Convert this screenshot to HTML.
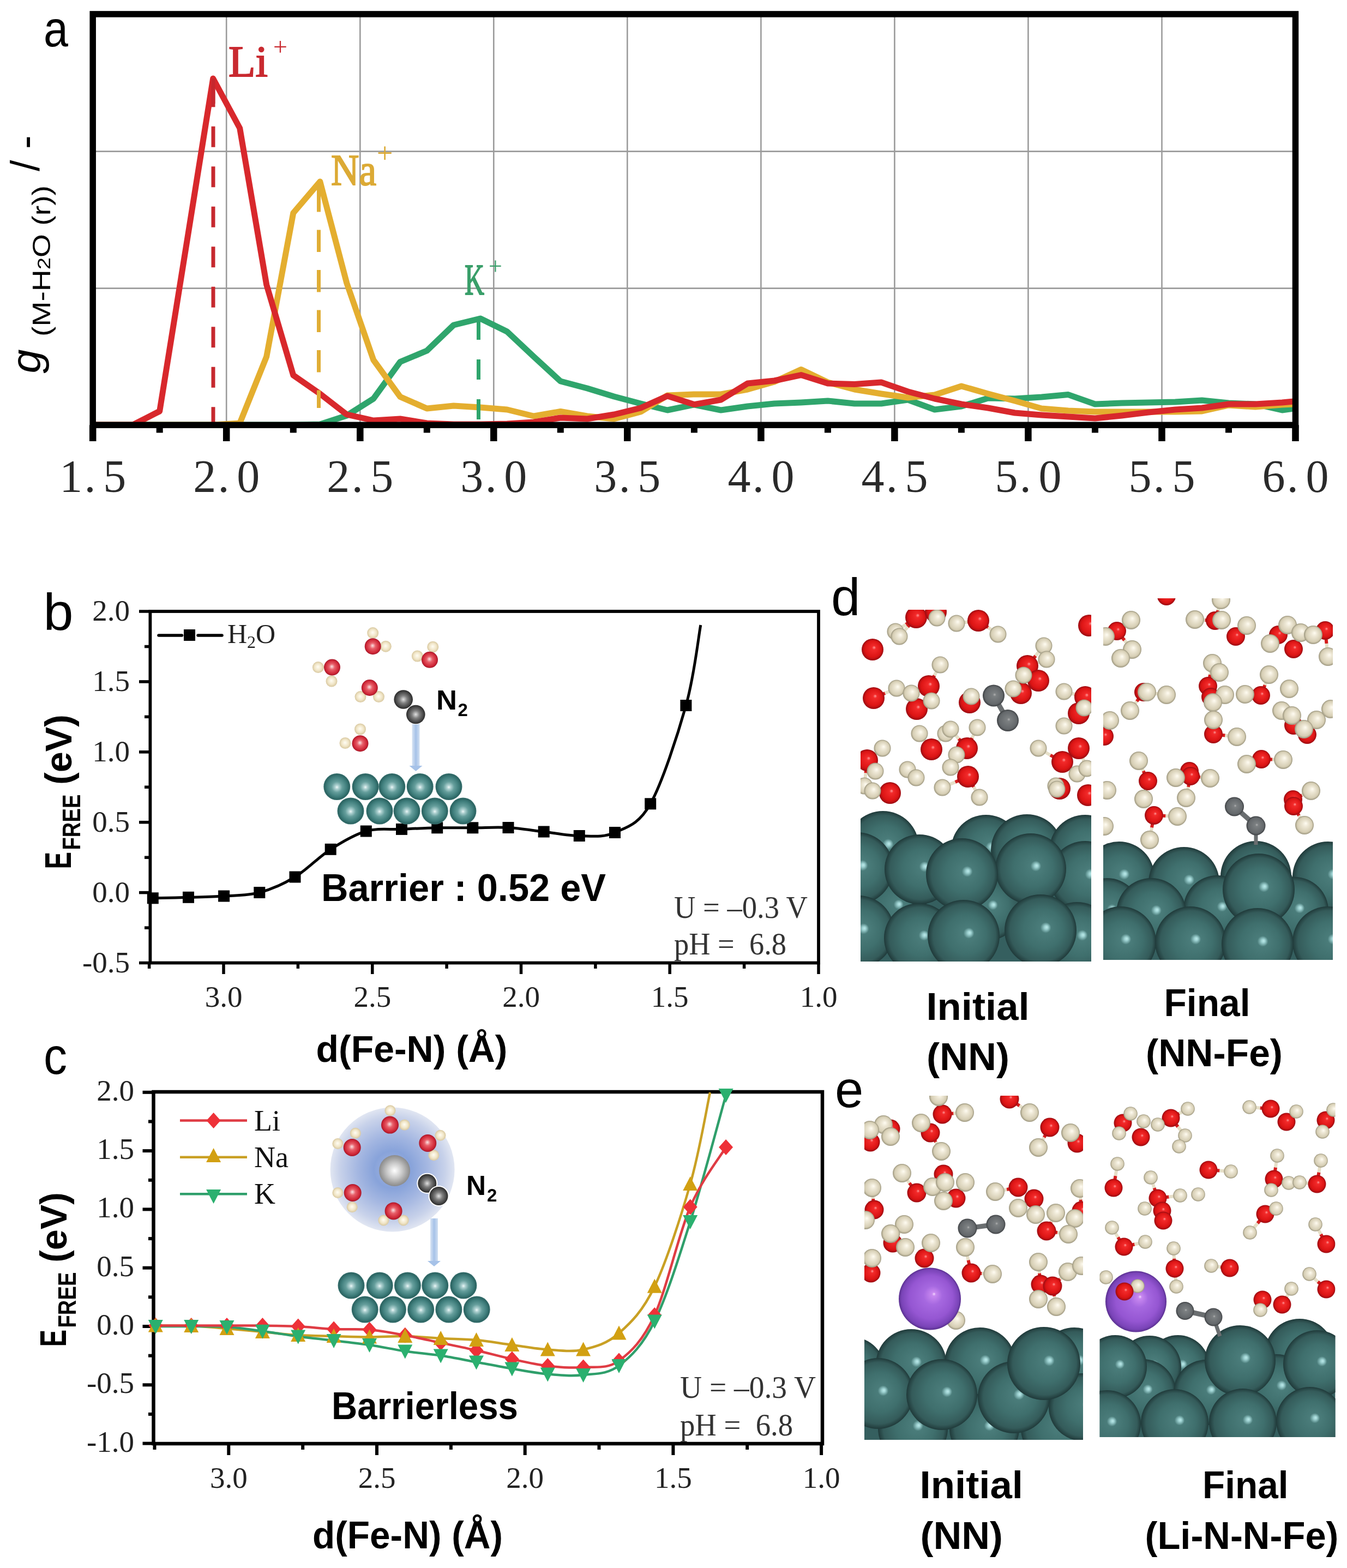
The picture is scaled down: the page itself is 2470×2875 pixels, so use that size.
<!DOCTYPE html>
<html><head><meta charset="utf-8"><title>Figure</title>
<style>html,body{margin:0;padding:0;background:#fff;}svg{display:block;}</style></head>
<body><svg width="2470" height="2875" viewBox="0 0 2470 2875">
<defs><radialGradient id="gO" cx="0.5" cy="0.5" r="0.5" fx="0.48" fy="0.45"><stop offset="0" stop-color="#fbe4e4"/><stop offset="0.35" stop-color="#e8606a"/><stop offset="0.8" stop-color="#d02838"/><stop offset="1" stop-color="#a8182a"/></radialGradient><radialGradient id="gH" cx="0.5" cy="0.5" r="0.5" fx="0.48" fy="0.45"><stop offset="0" stop-color="#fffdf4"/><stop offset="0.6" stop-color="#f1e6c8"/><stop offset="1" stop-color="#d8c8a0"/></radialGradient><radialGradient id="gN" cx="0.5" cy="0.5" r="0.5" fx="0.5" fy="0.5"><stop offset="0" stop-color="#e0e0e0"/><stop offset="0.4" stop-color="#808080"/><stop offset="0.85" stop-color="#404040"/><stop offset="1" stop-color="#2a2a2a"/></radialGradient><radialGradient id="gFe" cx="0.5" cy="0.5" r="0.5" fx="0.5" fy="0.52"><stop offset="0" stop-color="#eef8f8"/><stop offset="0.14" stop-color="#b0d2d2"/><stop offset="0.4" stop-color="#659e9c"/><stop offset="0.75" stop-color="#3e7d7b"/><stop offset="0.93" stop-color="#2c6462"/><stop offset="1" stop-color="#3f7876"/></radialGradient><radialGradient id="gGray" cx="0.5" cy="0.5" r="0.5" fx="0.5" fy="0.5"><stop offset="0" stop-color="#ffffff"/><stop offset="0.5" stop-color="#c8c8c8"/><stop offset="1" stop-color="#8a8a8a"/></radialGradient><radialGradient id="gBlue" cx="0.5" cy="0.5" r="0.5"><stop offset="0" stop-color="#a4b6e0"/><stop offset="0.3" stop-color="#88a3da"/><stop offset="0.55" stop-color="#a3b6e1"/><stop offset="0.85" stop-color="#c8d2ea"/><stop offset="1" stop-color="#e1e6f2"/></radialGradient><linearGradient id="gArrow" x1="0" y1="0" x2="1" y2="0"><stop offset="0" stop-color="#d8e4f4"/><stop offset="0.5" stop-color="#a6c2e8"/><stop offset="1" stop-color="#d0dff2"/></linearGradient><radialGradient id="fe" cx="0.5" cy="0.5" r="0.5" fx="0.585" fy="0.455"><stop offset="0" stop-color="#bdeaea"/><stop offset="0.05" stop-color="#9ed2d2"/><stop offset="0.15" stop-color="#4a7c7a"/><stop offset="0.55" stop-color="#3f6f6d"/><stop offset="0.87" stop-color="#345b5a"/><stop offset="1" stop-color="#203a3a"/></radialGradient><radialGradient id="o2" cx="0.5" cy="0.5" r="0.5" fx="0.58" fy="0.4"><stop offset="0" stop-color="#ff9a9a"/><stop offset="0.18" stop-color="#f22a2a"/><stop offset="0.75" stop-color="#dc1414"/><stop offset="1" stop-color="#9a0c12"/></radialGradient><radialGradient id="h2" cx="0.5" cy="0.5" r="0.5" fx="0.58" fy="0.4"><stop offset="0" stop-color="#fffcf2"/><stop offset="0.3" stop-color="#eee8d6"/><stop offset="0.8" stop-color="#d6ceb4"/><stop offset="1" stop-color="#9c967e"/></radialGradient><radialGradient id="n2" cx="0.5" cy="0.5" r="0.5" fx="0.55" fy="0.45"><stop offset="0" stop-color="#b4b4b4"/><stop offset="0.15" stop-color="#7c8082"/><stop offset="0.8" stop-color="#64686b"/><stop offset="1" stop-color="#3e4144"/></radialGradient><radialGradient id="li" cx="0.5" cy="0.5" r="0.5" fx="0.57" fy="0.42"><stop offset="0" stop-color="#f4d8ff"/><stop offset="0.06" stop-color="#c888f0"/><stop offset="0.3" stop-color="#a668e0"/><stop offset="0.7" stop-color="#9556d2"/><stop offset="0.92" stop-color="#7a44b8"/><stop offset="1" stop-color="#5a3090"/></radialGradient><clipPath id="cldL"><rect x="1578" y="1118" width="423" height="645"/></clipPath><clipPath id="cldR"><rect x="2023" y="1097" width="421" height="663"/></clipPath><clipPath id="cleL"><rect x="1585" y="2009" width="401" height="631"/></clipPath><clipPath id="cleR"><rect x="2016.5" y="2012" width="432.0999999999999" height="623"/></clipPath></defs>
<rect width="2470" height="2875" fill="#fff"/>
<g id="pa">
<line x1="415.2" y1="25.9" x2="415.2" y2="779.3" stroke="#9b9b9b" stroke-width="2.6"/>
<line x1="660.3" y1="25.9" x2="660.3" y2="779.3" stroke="#9b9b9b" stroke-width="2.6"/>
<line x1="905.3" y1="25.9" x2="905.3" y2="779.3" stroke="#9b9b9b" stroke-width="2.6"/>
<line x1="1150.3" y1="25.9" x2="1150.3" y2="779.3" stroke="#9b9b9b" stroke-width="2.6"/>
<line x1="1395.4" y1="25.9" x2="1395.4" y2="779.3" stroke="#9b9b9b" stroke-width="2.6"/>
<line x1="1640.4" y1="25.9" x2="1640.4" y2="779.3" stroke="#9b9b9b" stroke-width="2.6"/>
<line x1="1885.4" y1="25.9" x2="1885.4" y2="779.3" stroke="#9b9b9b" stroke-width="2.6"/>
<line x1="2130.5" y1="25.9" x2="2130.5" y2="779.3" stroke="#9b9b9b" stroke-width="2.6"/>
<line x1="170.2" y1="277.6" x2="2375.5" y2="277.6" stroke="#9b9b9b" stroke-width="2.6"/>
<line x1="170.2" y1="528.6" x2="2375.5" y2="528.6" stroke="#9b9b9b" stroke-width="2.6"/>
<polyline points="173.2,779.0 194.7,779.0 243.7,779.0 292.7,779.0 341.7,779.0 390.7,779.0 439.7,779.0 488.7,779.0 537.8,779.0 586.8,778.0 635.8,762.0 684.8,731.0 733.8,663.5 782.8,643.0 831.8,596.0 880.8,584.0 929.8,608.0 978.8,654.0 1027.8,699.0 1076.8,712.0 1125.8,727.0 1174.8,740.0 1223.8,752.0 1272.9,742.0 1321.9,752.0 1370.9,745.0 1419.9,740.0 1468.9,738.0 1517.9,735.0 1566.9,740.0 1615.9,740.0 1664.9,733.0 1713.9,751.0 1762.9,745.0 1811.9,730.0 1860.9,731.0 1909.9,728.0 1958.9,723.6 2008.0,741.0 2057.0,739.0 2106.0,738.0 2155.0,737.0 2204.0,734.0 2253.0,739.0 2302.0,741.0 2351.0,752.0 2372.5,749.0" fill="none" stroke="#2fa56c" stroke-width="11" stroke-linejoin="round"/>
<polyline points="173.2,779.0 194.7,779.0 243.7,779.0 292.7,779.0 341.7,779.0 390.7,779.0 439.7,776.0 488.7,654.0 537.8,390.5 586.8,333.0 635.8,519.0 684.8,660.0 733.8,727.5 782.8,749.0 831.8,744.0 880.8,747.0 929.8,751.0 978.8,763.0 1027.8,754.5 1076.8,763.0 1125.8,768.0 1174.8,755.0 1223.8,725.0 1272.9,723.0 1321.9,723.0 1370.9,714.0 1419.9,700.0 1468.9,677.5 1517.9,701.0 1566.9,714.0 1615.9,722.0 1664.9,729.0 1713.9,724.0 1762.9,708.0 1811.9,722.0 1860.9,735.0 1909.9,749.0 1958.9,753.0 2008.0,755.0 2057.0,755.0 2106.0,755.0 2155.0,755.0 2204.0,754.0 2253.0,743.0 2302.0,746.0 2351.0,742.0 2372.5,741.0" fill="none" stroke="#e4ae2f" stroke-width="11" stroke-linejoin="round"/>
<polyline points="173.2,779.0 194.7,779.0 243.7,779.0 292.7,754.0 341.7,449.5 390.7,144.0 439.7,235.0 488.7,522.0 537.8,688.0 586.8,722.0 635.8,760.0 684.8,771.0 733.8,768.0 782.8,776.0 831.8,778.0 880.8,778.0 929.8,777.0 978.8,774.0 1027.8,766.0 1076.8,768.0 1125.8,760.0 1174.8,748.0 1223.8,726.0 1272.9,741.6 1321.9,733.0 1370.9,703.0 1419.9,698.0 1468.9,687.6 1517.9,703.0 1566.9,704.5 1615.9,701.0 1664.9,718.0 1713.9,731.0 1762.9,741.0 1811.9,748.0 1860.9,757.0 1909.9,761.0 1958.9,764.0 2008.0,767.0 2057.0,762.0 2106.0,756.0 2155.0,751.0 2204.0,748.0 2253.0,741.0 2302.0,741.0 2351.0,738.0 2372.5,736.0" fill="none" stroke="#d8282c" stroke-width="11" stroke-linejoin="round"/>
<line x1="391" y1="158.3" x2="391" y2="779" stroke="#c6282e" stroke-width="7" stroke-dasharray="38 35.5"/>
<line x1="391" y1="144" x2="391" y2="190" stroke="#c6282e" stroke-width="7"/>
<line x1="584.5" y1="348" x2="584.5" y2="748" stroke="#e0ad35" stroke-width="7" stroke-dasharray="40.5 33"/>
<line x1="584.5" y1="336" x2="584.5" y2="378" stroke="#e0ad35" stroke-width="7"/>
<line x1="877.5" y1="586" x2="877.5" y2="770" stroke="#2fa56c" stroke-width="7" stroke-dasharray="37 36"/>
<rect x="170.2" y="25.9" width="2205.3" height="753.4" fill="none" stroke="#000" stroke-width="11.5"/>
<line x1="170.2" y1="779.3" x2="170.2" y2="809" stroke="#000" stroke-width="12.5"/>
<line x1="415.2" y1="779.3" x2="415.2" y2="809" stroke="#000" stroke-width="12.5"/>
<line x1="660.3" y1="779.3" x2="660.3" y2="809" stroke="#000" stroke-width="12.5"/>
<line x1="905.3" y1="779.3" x2="905.3" y2="809" stroke="#000" stroke-width="12.5"/>
<line x1="1150.3" y1="779.3" x2="1150.3" y2="809" stroke="#000" stroke-width="12.5"/>
<line x1="1395.4" y1="779.3" x2="1395.4" y2="809" stroke="#000" stroke-width="12.5"/>
<line x1="1640.4" y1="779.3" x2="1640.4" y2="809" stroke="#000" stroke-width="12.5"/>
<line x1="1885.4" y1="779.3" x2="1885.4" y2="809" stroke="#000" stroke-width="12.5"/>
<line x1="2130.5" y1="779.3" x2="2130.5" y2="809" stroke="#000" stroke-width="12.5"/>
<line x1="2375.5" y1="779.3" x2="2375.5" y2="809" stroke="#000" stroke-width="12.5"/>
<line x1="292.7" y1="779.3" x2="292.7" y2="793.5" stroke="#000" stroke-width="12"/>
<line x1="537.8" y1="779.3" x2="537.8" y2="793.5" stroke="#000" stroke-width="12"/>
<line x1="782.8" y1="779.3" x2="782.8" y2="793.5" stroke="#000" stroke-width="12"/>
<line x1="1027.8" y1="779.3" x2="1027.8" y2="793.5" stroke="#000" stroke-width="12"/>
<line x1="1272.9" y1="779.3" x2="1272.9" y2="793.5" stroke="#000" stroke-width="12"/>
<line x1="1517.9" y1="779.3" x2="1517.9" y2="793.5" stroke="#000" stroke-width="12"/>
<line x1="1762.9" y1="779.3" x2="1762.9" y2="793.5" stroke="#000" stroke-width="12"/>
<line x1="2008.0" y1="779.3" x2="2008.0" y2="793.5" stroke="#000" stroke-width="12"/>
<line x1="2253.0" y1="779.3" x2="2253.0" y2="793.5" stroke="#000" stroke-width="12"/>
<text x="170.2" y="901.5" font-family="'Liberation Serif', 'Times New Roman', serif" font-size="84" text-anchor="middle" textLength="122" lengthAdjust="spacing" fill="#2a2a2a">1.&#8202;5</text>
<text x="415.2" y="901.5" font-family="'Liberation Serif', 'Times New Roman', serif" font-size="84" text-anchor="middle" textLength="122" lengthAdjust="spacing" fill="#2a2a2a">2.&#8202;0</text>
<text x="660.3" y="901.5" font-family="'Liberation Serif', 'Times New Roman', serif" font-size="84" text-anchor="middle" textLength="122" lengthAdjust="spacing" fill="#2a2a2a">2.&#8202;5</text>
<text x="905.3" y="901.5" font-family="'Liberation Serif', 'Times New Roman', serif" font-size="84" text-anchor="middle" textLength="122" lengthAdjust="spacing" fill="#2a2a2a">3.&#8202;0</text>
<text x="1150.3" y="901.5" font-family="'Liberation Serif', 'Times New Roman', serif" font-size="84" text-anchor="middle" textLength="122" lengthAdjust="spacing" fill="#2a2a2a">3.&#8202;5</text>
<text x="1395.4" y="901.5" font-family="'Liberation Serif', 'Times New Roman', serif" font-size="84" text-anchor="middle" textLength="122" lengthAdjust="spacing" fill="#2a2a2a">4.&#8202;0</text>
<text x="1640.4" y="901.5" font-family="'Liberation Serif', 'Times New Roman', serif" font-size="84" text-anchor="middle" textLength="122" lengthAdjust="spacing" fill="#2a2a2a">4.&#8202;5</text>
<text x="1885.4" y="901.5" font-family="'Liberation Serif', 'Times New Roman', serif" font-size="84" text-anchor="middle" textLength="122" lengthAdjust="spacing" fill="#2a2a2a">5.&#8202;0</text>
<text x="2130.5" y="901.5" font-family="'Liberation Serif', 'Times New Roman', serif" font-size="84" text-anchor="middle" textLength="122" lengthAdjust="spacing" fill="#2a2a2a">5.&#8202;5</text>
<text x="2375.5" y="901.5" font-family="'Liberation Serif', 'Times New Roman', serif" font-size="84" text-anchor="middle" textLength="122" lengthAdjust="spacing" fill="#2a2a2a">6.&#8202;0</text>
<text x="419" y="140" font-family="'Liberation Serif', 'Times New Roman', serif" font-size="80" fill="#c92a30" stroke="#c92a30" stroke-width="2" textLength="72" lengthAdjust="spacingAndGlyphs">Li</text>
<text x="501" y="101" font-family="'Liberation Serif', 'Times New Roman', serif" font-size="46" fill="#c92a30">+</text>
<text x="607" y="339" font-family="'Liberation Serif', 'Times New Roman', serif" font-size="80" fill="#dcaa35" stroke="#dcaa35" stroke-width="2" textLength="83" lengthAdjust="spacingAndGlyphs">Na</text>
<text x="691" y="298" font-family="'Liberation Serif', 'Times New Roman', serif" font-size="52" fill="#dcaa35">+</text>
<text x="852" y="540" font-family="'Liberation Serif', 'Times New Roman', serif" font-size="80" fill="#3a9f6a" stroke="#3a9f6a" stroke-width="2" textLength="36" lengthAdjust="spacingAndGlyphs">K</text>
<text x="896" y="503" font-family="'Liberation Serif', 'Times New Roman', serif" font-size="44" fill="#3a9f6a">+</text>
<text x="80" y="85" font-family="'Liberation Sans', Arial, sans-serif" font-size="92" fill="#000" textLength="45" lengthAdjust="spacingAndGlyphs">a</text>
<g transform="translate(86,684) rotate(-90)"><text x="-0.5" y="-12" font-family="'Liberation Sans', Arial, sans-serif" font-style="italic" font-size="76" fill="#000" textLength="44" lengthAdjust="spacingAndGlyphs">g</text><text x="67" y="6" font-family="'Liberation Sans', Arial, sans-serif" font-size="47" fill="#000" textLength="277" lengthAdjust="spacingAndGlyphs">(M-H<tspan font-size="34">2</tspan>O (r))</text><text x="370" y="-14" font-family="'Liberation Sans', Arial, sans-serif" font-size="74" fill="#000">/ -</text></g>
</g>
<g id="pb">
<rect x="275.4" y="1121" width="1225.6" height="644.5" fill="none" stroke="#000" stroke-width="5.8"/>
<line x1="255" y1="1121.0" x2="275.4" y2="1121.0" stroke="#000" stroke-width="5.5"/>
<text x="238" y="1138.0" font-family="'Liberation Serif', 'Times New Roman', serif" font-size="55" text-anchor="end" fill="#222">2.0</text>
<line x1="255" y1="1249.9" x2="275.4" y2="1249.9" stroke="#000" stroke-width="5.5"/>
<text x="238" y="1266.9" font-family="'Liberation Serif', 'Times New Roman', serif" font-size="55" text-anchor="end" fill="#222">1.5</text>
<line x1="255" y1="1378.8" x2="275.4" y2="1378.8" stroke="#000" stroke-width="5.5"/>
<text x="238" y="1395.8" font-family="'Liberation Serif', 'Times New Roman', serif" font-size="55" text-anchor="end" fill="#222">1.0</text>
<line x1="255" y1="1507.7" x2="275.4" y2="1507.7" stroke="#000" stroke-width="5.5"/>
<text x="238" y="1524.7" font-family="'Liberation Serif', 'Times New Roman', serif" font-size="55" text-anchor="end" fill="#222">0.5</text>
<line x1="255" y1="1636.6" x2="275.4" y2="1636.6" stroke="#000" stroke-width="5.5"/>
<text x="238" y="1653.6" font-family="'Liberation Serif', 'Times New Roman', serif" font-size="55" text-anchor="end" fill="#222">0.0</text>
<line x1="255" y1="1765.5" x2="275.4" y2="1765.5" stroke="#000" stroke-width="5.5"/>
<text x="238" y="1782.5" font-family="'Liberation Serif', 'Times New Roman', serif" font-size="55" text-anchor="end" fill="#222">-0.5</text>
<line x1="265" y1="1185.5" x2="275.4" y2="1185.5" stroke="#000" stroke-width="5.5"/>
<line x1="265" y1="1314.3" x2="275.4" y2="1314.3" stroke="#000" stroke-width="5.5"/>
<line x1="265" y1="1443.2" x2="275.4" y2="1443.2" stroke="#000" stroke-width="5.5"/>
<line x1="265" y1="1572.2" x2="275.4" y2="1572.2" stroke="#000" stroke-width="5.5"/>
<line x1="265" y1="1701.1" x2="275.4" y2="1701.1" stroke="#000" stroke-width="5.5"/>
<line x1="410.0" y1="1765.5" x2="410.0" y2="1786" stroke="#000" stroke-width="5.5"/>
<text x="410.0" y="1846" font-family="'Liberation Serif', 'Times New Roman', serif" font-size="55" text-anchor="middle" fill="#222">3.0</text>
<line x1="682.8" y1="1765.5" x2="682.8" y2="1786" stroke="#000" stroke-width="5.5"/>
<text x="682.8" y="1846" font-family="'Liberation Serif', 'Times New Roman', serif" font-size="55" text-anchor="middle" fill="#222">2.5</text>
<line x1="955.5" y1="1765.5" x2="955.5" y2="1786" stroke="#000" stroke-width="5.5"/>
<text x="955.5" y="1846" font-family="'Liberation Serif', 'Times New Roman', serif" font-size="55" text-anchor="middle" fill="#222">2.0</text>
<line x1="1228.2" y1="1765.5" x2="1228.2" y2="1786" stroke="#000" stroke-width="5.5"/>
<text x="1228.2" y="1846" font-family="'Liberation Serif', 'Times New Roman', serif" font-size="55" text-anchor="middle" fill="#222">1.5</text>
<line x1="1501.0" y1="1765.5" x2="1501.0" y2="1786" stroke="#000" stroke-width="5.5"/>
<text x="1501.0" y="1846" font-family="'Liberation Serif', 'Times New Roman', serif" font-size="55" text-anchor="middle" fill="#222">1.0</text>
<line x1="273.6" y1="1765.5" x2="273.6" y2="1776" stroke="#000" stroke-width="5.5"/>
<line x1="546.4" y1="1765.5" x2="546.4" y2="1776" stroke="#000" stroke-width="5.5"/>
<line x1="819.1" y1="1765.5" x2="819.1" y2="1776" stroke="#000" stroke-width="5.5"/>
<line x1="1091.9" y1="1765.5" x2="1091.9" y2="1776" stroke="#000" stroke-width="5.5"/>
<line x1="1364.6" y1="1765.5" x2="1364.6" y2="1776" stroke="#000" stroke-width="5.5"/>
</g>
<g id="pc">
<rect x="281.5" y="2002" width="1226.5" height="645.0" fill="none" stroke="#000" stroke-width="6.5"/>
<line x1="261.5" y1="2002.8" x2="281.5" y2="2002.8" stroke="#000" stroke-width="6"/>
<text x="246" y="2017.8" font-family="'Liberation Serif', 'Times New Roman', serif" font-size="55" text-anchor="end" fill="#222">2.0</text>
<line x1="261.5" y1="2110.1" x2="281.5" y2="2110.1" stroke="#000" stroke-width="6"/>
<text x="246" y="2125.1" font-family="'Liberation Serif', 'Times New Roman', serif" font-size="55" text-anchor="end" fill="#222">1.5</text>
<line x1="261.5" y1="2217.4" x2="281.5" y2="2217.4" stroke="#000" stroke-width="6"/>
<text x="246" y="2232.4" font-family="'Liberation Serif', 'Times New Roman', serif" font-size="55" text-anchor="end" fill="#222">1.0</text>
<line x1="261.5" y1="2324.7" x2="281.5" y2="2324.7" stroke="#000" stroke-width="6"/>
<text x="246" y="2339.7" font-family="'Liberation Serif', 'Times New Roman', serif" font-size="55" text-anchor="end" fill="#222">0.5</text>
<line x1="261.5" y1="2432.0" x2="281.5" y2="2432.0" stroke="#000" stroke-width="6"/>
<text x="246" y="2447.0" font-family="'Liberation Serif', 'Times New Roman', serif" font-size="55" text-anchor="end" fill="#222">0.0</text>
<line x1="261.5" y1="2539.3" x2="281.5" y2="2539.3" stroke="#000" stroke-width="6"/>
<text x="246" y="2554.3" font-family="'Liberation Serif', 'Times New Roman', serif" font-size="55" text-anchor="end" fill="#222">-0.5</text>
<line x1="261.5" y1="2646.6" x2="281.5" y2="2646.6" stroke="#000" stroke-width="6"/>
<text x="246" y="2661.6" font-family="'Liberation Serif', 'Times New Roman', serif" font-size="55" text-anchor="end" fill="#222">-1.0</text>
<line x1="272" y1="2056.4" x2="281.5" y2="2056.4" stroke="#000" stroke-width="6"/>
<line x1="272" y1="2163.8" x2="281.5" y2="2163.8" stroke="#000" stroke-width="6"/>
<line x1="272" y1="2271.1" x2="281.5" y2="2271.1" stroke="#000" stroke-width="6"/>
<line x1="272" y1="2378.3" x2="281.5" y2="2378.3" stroke="#000" stroke-width="6"/>
<line x1="272" y1="2485.7" x2="281.5" y2="2485.7" stroke="#000" stroke-width="6"/>
<line x1="272" y1="2592.9" x2="281.5" y2="2592.9" stroke="#000" stroke-width="6"/>
<line x1="419.3" y1="2647" x2="419.3" y2="2668" stroke="#000" stroke-width="6"/>
<text x="419.3" y="2728" font-family="'Liberation Serif', 'Times New Roman', serif" font-size="55" text-anchor="middle" fill="#222">3.0</text>
<line x1="691.0" y1="2647" x2="691.0" y2="2668" stroke="#000" stroke-width="6"/>
<text x="691.0" y="2728" font-family="'Liberation Serif', 'Times New Roman', serif" font-size="55" text-anchor="middle" fill="#222">2.5</text>
<line x1="962.7" y1="2647" x2="962.7" y2="2668" stroke="#000" stroke-width="6"/>
<text x="962.7" y="2728" font-family="'Liberation Serif', 'Times New Roman', serif" font-size="55" text-anchor="middle" fill="#222">2.0</text>
<line x1="1234.4" y1="2647" x2="1234.4" y2="2668" stroke="#000" stroke-width="6"/>
<text x="1234.4" y="2728" font-family="'Liberation Serif', 'Times New Roman', serif" font-size="55" text-anchor="middle" fill="#222">1.5</text>
<line x1="1506.1" y1="2647" x2="1506.1" y2="2668" stroke="#000" stroke-width="6"/>
<text x="1506.1" y="2728" font-family="'Liberation Serif', 'Times New Roman', serif" font-size="55" text-anchor="middle" fill="#222">1.0</text>
<line x1="283.5" y1="2647" x2="283.5" y2="2658" stroke="#000" stroke-width="6"/>
<line x1="555.2" y1="2647" x2="555.2" y2="2658" stroke="#000" stroke-width="6"/>
<line x1="826.9" y1="2647" x2="826.9" y2="2658" stroke="#000" stroke-width="6"/>
<line x1="1098.5" y1="2647" x2="1098.5" y2="2658" stroke="#000" stroke-width="6"/>
<line x1="1370.2" y1="2647" x2="1370.2" y2="2658" stroke="#000" stroke-width="6"/>
</g>
<g id="pb2">
<path d="M280.3,1646.8 C291.2,1646.5 323.7,1645.9 345.5,1645.3 C367.2,1644.7 388.9,1644.5 410.6,1643.0 C432.4,1641.5 454.1,1642.3 475.8,1636.5 C497.5,1630.7 519.3,1621.2 541.0,1608.0 C562.7,1594.8 584.4,1571.3 606.2,1557.3 C627.9,1543.3 649.6,1530.2 671.3,1524.0 C693.0,1517.8 714.8,1521.4 736.5,1520.4 C758.2,1519.4 779.9,1518.2 801.7,1517.8 C823.4,1517.4 845.1,1517.8 866.8,1517.8 C888.6,1517.8 910.3,1516.3 932.0,1517.5 C953.7,1518.7 975.4,1522.5 997.2,1525.0 C1018.9,1527.5 1040.6,1532.2 1062.3,1532.5 C1084.1,1532.8 1105.8,1536.3 1127.5,1526.5 C1149.2,1516.7 1171.0,1512.6 1192.7,1473.8 C1214.4,1435.0 1242.5,1348.1 1257.9,1293.5 C1273.2,1238.9 1280.3,1170.6 1284.8,1146.0" fill="none" stroke="#000" stroke-width="5"/>
<rect x="269.8" y="1636.3" width="21" height="21" fill="#000"/>
<rect x="335.0" y="1634.8" width="21" height="21" fill="#000"/>
<rect x="400.1" y="1632.5" width="21" height="21" fill="#000"/>
<rect x="465.3" y="1626.0" width="21" height="21" fill="#000"/>
<rect x="530.5" y="1597.5" width="21" height="21" fill="#000"/>
<rect x="595.7" y="1546.8" width="21" height="21" fill="#000"/>
<rect x="660.8" y="1513.5" width="21" height="21" fill="#000"/>
<rect x="726.0" y="1509.9" width="21" height="21" fill="#000"/>
<rect x="791.2" y="1507.3" width="21" height="21" fill="#000"/>
<rect x="856.3" y="1507.3" width="21" height="21" fill="#000"/>
<rect x="921.5" y="1507.0" width="21" height="21" fill="#000"/>
<rect x="986.7" y="1514.5" width="21" height="21" fill="#000"/>
<rect x="1051.8" y="1522.0" width="21" height="21" fill="#000"/>
<rect x="1117.0" y="1516.0" width="21" height="21" fill="#000"/>
<rect x="1182.2" y="1463.3" width="21" height="21" fill="#000"/>
<rect x="1247.4" y="1283.0" width="21" height="21" fill="#000"/>
<line x1="291" y1="1165" x2="333.5" y2="1165" stroke="#000" stroke-width="5.5" stroke-linecap="round"/>
<line x1="363" y1="1165" x2="407" y2="1165" stroke="#000" stroke-width="5.5" stroke-linecap="round"/>
<rect x="337" y="1154" width="21" height="21" fill="#000"/>
<text x="417" y="1179" font-family="'Liberation Serif', 'Times New Roman', serif" font-size="50" fill="#222">H<tspan font-size="32" dy="9">2</tspan><tspan dy="-9">O</tspan></text>
<circle cx="683.7" cy="1160.6" r="10.5" fill="url(#gH)"/><circle cx="707.3" cy="1185.2" r="10.5" fill="url(#gH)"/><circle cx="683.7" cy="1185.2" r="15" fill="url(#gO)"/>
<circle cx="583.4" cy="1223.6" r="10.5" fill="url(#gH)"/><circle cx="608.0" cy="1249.0" r="10.5" fill="url(#gH)"/><circle cx="609.0" cy="1223.6" r="15" fill="url(#gO)"/>
<circle cx="793.8" cy="1186.2" r="10.5" fill="url(#gH)"/><circle cx="765.3" cy="1203.0" r="10.5" fill="url(#gH)"/><circle cx="788.0" cy="1209.8" r="15" fill="url(#gO)"/>
<circle cx="661.0" cy="1277.6" r="10.5" fill="url(#gH)"/><circle cx="694.5" cy="1277.6" r="10.5" fill="url(#gH)"/><circle cx="677.8" cy="1261.0" r="15" fill="url(#gO)"/>
<circle cx="660.5" cy="1337.0" r="10.5" fill="url(#gH)"/><circle cx="633.0" cy="1362.5" r="10.5" fill="url(#gH)"/><circle cx="660.5" cy="1363.2" r="15" fill="url(#gO)"/>
<rect x="755.5" y="1325" width="14" height="81" fill="url(#gArrow)"/><path d="M750.5,1404 L774.5,1404 L762.5,1414 Z" fill="#a6c2e8"/>
<circle cx="739.7" cy="1282.5" r="18.5" fill="#fff"/>
<circle cx="739.7" cy="1282.5" r="17.3" fill="url(#gN)"/>
<circle cx="762.3" cy="1310" r="18.5" fill="#fff"/>
<circle cx="762.3" cy="1310.0" r="17.3" fill="url(#gN)"/>
<circle cx="617.8" cy="1442.5" r="24.5" fill="url(#gFe)"/>
<circle cx="670.1" cy="1442.5" r="24.5" fill="url(#gFe)"/>
<circle cx="718.8" cy="1442.5" r="24.5" fill="url(#gFe)"/>
<circle cx="770.2" cy="1442.5" r="24.5" fill="url(#gFe)"/>
<circle cx="823.0" cy="1442.5" r="24.5" fill="url(#gFe)"/>
<circle cx="643.0" cy="1487.0" r="24.5" fill="url(#gFe)"/>
<circle cx="696.0" cy="1487.0" r="24.5" fill="url(#gFe)"/>
<circle cx="746.0" cy="1487.0" r="24.5" fill="url(#gFe)"/>
<circle cx="797.3" cy="1487.0" r="24.5" fill="url(#gFe)"/>
<circle cx="849.0" cy="1487.0" r="24.5" fill="url(#gFe)"/>
<text x="800" y="1300.8" font-family="'Liberation Sans', Arial, sans-serif" font-weight="bold" font-size="50" fill="#000" textLength="38" lengthAdjust="spacingAndGlyphs">N</text>
<text x="839.5" y="1313.4" font-family="'Liberation Sans', Arial, sans-serif" font-weight="bold" font-size="33" fill="#000">2</text>
<text x="589" y="1652" font-family="'Liberation Sans', Arial, sans-serif" font-weight="bold" font-size="71" fill="#000" textLength="522" lengthAdjust="spacingAndGlyphs">Barrier : 0.52 eV</text>
<text x="1236" y="1683" font-family="'Liberation Serif', 'Times New Roman', serif" font-size="56" fill="#333" textLength="245" lengthAdjust="spacingAndGlyphs">U = &#8211;0.3 V</text>
<text x="1236" y="1750" font-family="'Liberation Serif', 'Times New Roman', serif" font-size="56" fill="#333" textLength="206" lengthAdjust="spacingAndGlyphs" xml:space="preserve">pH =&#160; 6.8</text>
<text x="579.5" y="1946.5" font-family="'Liberation Sans', Arial, sans-serif" font-weight="bold" font-size="68" fill="#000" textLength="351" lengthAdjust="spacingAndGlyphs">d(Fe-N) (&#197;)</text>
<text x="79.5" y="1155" font-family="'Liberation Sans', Arial, sans-serif" font-size="94" fill="#000" textLength="55" lengthAdjust="spacingAndGlyphs">b</text>
<g transform="translate(129.5,1592) rotate(-90)"><text x="-1.5" y="0" font-family="'Liberation Sans', Arial, sans-serif" font-weight="bold" font-size="68" fill="#000" textLength="31.5" lengthAdjust="spacingAndGlyphs">E</text><text x="33.5" y="17.5" font-family="'Liberation Sans', Arial, sans-serif" font-weight="bold" font-size="45.5" fill="#000" textLength="102" lengthAdjust="spacingAndGlyphs">FREE</text><text x="153" y="1" font-family="'Liberation Sans', Arial, sans-serif" font-weight="bold" font-size="69" fill="#000" textLength="129" lengthAdjust="spacingAndGlyphs">(eV)</text></g>
</g>
<g id="pc2">
<path d="M285.3,2430.6 C296.2,2430.7 328.9,2430.1 350.7,2431.0 C372.4,2431.9 394.2,2434.2 416.0,2436.0 C437.8,2437.8 459.6,2440.0 481.4,2442.0 C503.2,2444.0 525.0,2446.7 546.7,2448.0 C568.5,2449.3 590.3,2449.4 612.1,2450.0 C633.9,2450.6 655.7,2451.5 677.5,2451.5 C699.2,2451.5 721.0,2449.6 742.8,2450.0 C764.6,2450.4 786.4,2452.8 808.2,2454.0 C830.0,2455.2 851.8,2455.0 873.5,2457.0 C895.3,2459.0 917.1,2463.1 938.9,2466.0 C960.7,2468.9 982.5,2473.1 1004.3,2474.5 C1026.0,2475.9 1047.8,2479.5 1069.6,2474.5 C1091.4,2469.5 1113.2,2463.8 1135.0,2444.5 C1156.8,2425.2 1178.6,2404.4 1200.3,2358.8 C1222.1,2313.2 1248.8,2230.3 1265.7,2171.0 C1282.6,2111.7 1296.0,2031.0 1302.0,2003.0" fill="none" stroke="#c9a024" stroke-width="4.5"/>
<path d="M285.3,2432.0 C296.2,2432.0 328.9,2431.8 350.7,2432.0 C372.4,2432.2 394.2,2431.6 416.0,2433.0 C437.8,2434.4 459.6,2437.8 481.4,2440.7 C503.2,2443.6 525.0,2447.6 546.7,2450.5 C568.5,2453.4 590.3,2455.4 612.1,2458.0 C633.9,2460.6 655.7,2462.8 677.5,2466.0 C699.2,2469.2 721.0,2474.2 742.8,2477.5 C764.6,2480.8 786.4,2482.2 808.2,2485.5 C830.0,2488.8 851.8,2493.5 873.5,2497.5 C895.3,2501.5 917.1,2505.8 938.9,2509.5 C960.7,2513.2 982.5,2517.6 1004.3,2519.5 C1026.0,2521.4 1047.8,2523.6 1069.6,2521.0 C1091.4,2518.4 1113.2,2520.4 1135.0,2504.0 C1156.8,2487.6 1178.6,2466.5 1200.3,2422.5 C1222.1,2378.5 1243.9,2309.1 1265.7,2240.0 C1287.5,2170.9 1320.2,2046.7 1331.1,2008.0" fill="none" stroke="#2f9f6b" stroke-width="4.5"/>
<path d="M285.3,2430.6 C296.2,2430.6 328.9,2430.6 350.7,2430.6 C372.4,2430.6 394.2,2430.6 416.0,2430.6 C437.8,2430.6 459.6,2430.4 481.4,2430.6 C503.2,2430.8 525.0,2430.9 546.7,2432.0 C568.5,2433.1 590.3,2436.0 612.1,2437.0 C633.9,2438.0 655.7,2436.1 677.5,2438.0 C699.2,2439.9 721.0,2444.3 742.8,2448.3 C764.6,2452.3 786.4,2457.4 808.2,2462.0 C830.0,2466.6 851.8,2471.0 873.5,2476.0 C895.3,2481.0 917.1,2487.2 938.9,2492.0 C960.7,2496.8 982.5,2502.0 1004.3,2504.5 C1026.0,2507.0 1047.8,2508.6 1069.6,2507.0 C1091.4,2505.4 1113.2,2510.9 1135.0,2495.0 C1156.8,2479.1 1178.6,2458.5 1200.3,2411.5 C1222.1,2364.5 1243.9,2264.3 1265.7,2213.0 C1287.5,2161.7 1320.2,2121.8 1331.1,2103.5" fill="none" stroke="#df3c44" stroke-width="4.5"/>
<path d="M285.3,2416.1 L298.3,2430.6 L285.3,2445.1 L272.3,2430.6 Z" fill="#ee3138"/>
<path d="M350.7,2416.1 L363.7,2430.6 L350.7,2445.1 L337.7,2430.6 Z" fill="#ee3138"/>
<path d="M416.0,2416.1 L429.0,2430.6 L416.0,2445.1 L403.0,2430.6 Z" fill="#ee3138"/>
<path d="M481.4,2416.1 L494.4,2430.6 L481.4,2445.1 L468.4,2430.6 Z" fill="#ee3138"/>
<path d="M546.7,2417.5 L559.7,2432.0 L546.7,2446.5 L533.7,2432.0 Z" fill="#ee3138"/>
<path d="M612.1,2422.5 L625.1,2437.0 L612.1,2451.5 L599.1,2437.0 Z" fill="#ee3138"/>
<path d="M677.5,2423.5 L690.5,2438.0 L677.5,2452.5 L664.5,2438.0 Z" fill="#ee3138"/>
<path d="M742.8,2433.8 L755.8,2448.3 L742.8,2462.8 L729.8,2448.3 Z" fill="#ee3138"/>
<path d="M808.2,2447.5 L821.2,2462.0 L808.2,2476.5 L795.2,2462.0 Z" fill="#ee3138"/>
<path d="M873.5,2461.5 L886.5,2476.0 L873.5,2490.5 L860.5,2476.0 Z" fill="#ee3138"/>
<path d="M938.9,2477.5 L951.9,2492.0 L938.9,2506.5 L925.9,2492.0 Z" fill="#ee3138"/>
<path d="M1004.3,2490.0 L1017.3,2504.5 L1004.3,2519.0 L991.3,2504.5 Z" fill="#ee3138"/>
<path d="M1069.6,2492.5 L1082.6,2507.0 L1069.6,2521.5 L1056.6,2507.0 Z" fill="#ee3138"/>
<path d="M1135.0,2480.5 L1148.0,2495.0 L1135.0,2509.5 L1122.0,2495.0 Z" fill="#ee3138"/>
<path d="M1200.3,2397.0 L1213.3,2411.5 L1200.3,2426.0 L1187.3,2411.5 Z" fill="#ee3138"/>
<path d="M1265.7,2198.5 L1278.7,2213.0 L1265.7,2227.5 L1252.7,2213.0 Z" fill="#ee3138"/>
<path d="M1331.1,2089.0 L1344.1,2103.5 L1331.1,2118.0 L1318.1,2103.5 Z" fill="#ee3138"/>
<path d="M285.3,2416.6 L298.8,2442.6 L271.8,2442.6 Z" fill="#d2a012"/>
<path d="M350.7,2417.0 L364.2,2443.0 L337.2,2443.0 Z" fill="#d2a012"/>
<path d="M416.0,2422.0 L429.5,2448.0 L402.5,2448.0 Z" fill="#d2a012"/>
<path d="M481.4,2428.0 L494.9,2454.0 L467.9,2454.0 Z" fill="#d2a012"/>
<path d="M546.7,2434.0 L560.2,2460.0 L533.2,2460.0 Z" fill="#d2a012"/>
<path d="M612.1,2436.0 L625.6,2462.0 L598.6,2462.0 Z" fill="#d2a012"/>
<path d="M677.5,2437.5 L691.0,2463.5 L664.0,2463.5 Z" fill="#d2a012"/>
<path d="M742.8,2436.0 L756.3,2462.0 L729.3,2462.0 Z" fill="#d2a012"/>
<path d="M808.2,2440.0 L821.7,2466.0 L794.7,2466.0 Z" fill="#d2a012"/>
<path d="M873.5,2443.0 L887.0,2469.0 L860.0,2469.0 Z" fill="#d2a012"/>
<path d="M938.9,2452.0 L952.4,2478.0 L925.4,2478.0 Z" fill="#d2a012"/>
<path d="M1004.3,2460.5 L1017.8,2486.5 L990.8,2486.5 Z" fill="#d2a012"/>
<path d="M1069.6,2460.5 L1083.1,2486.5 L1056.1,2486.5 Z" fill="#d2a012"/>
<path d="M1135.0,2430.5 L1148.5,2456.5 L1121.5,2456.5 Z" fill="#d2a012"/>
<path d="M1200.3,2344.8 L1213.8,2370.8 L1186.8,2370.8 Z" fill="#d2a012"/>
<path d="M1265.7,2157.0 L1279.2,2183.0 L1252.2,2183.0 Z" fill="#d2a012"/>
<path d="M285.3,2446.0 L298.8,2420.0 L271.8,2420.0 Z" fill="#2bb06f"/>
<path d="M350.7,2446.0 L364.2,2420.0 L337.2,2420.0 Z" fill="#2bb06f"/>
<path d="M416.0,2447.0 L429.5,2421.0 L402.5,2421.0 Z" fill="#2bb06f"/>
<path d="M481.4,2454.7 L494.9,2428.7 L467.9,2428.7 Z" fill="#2bb06f"/>
<path d="M546.7,2464.5 L560.2,2438.5 L533.2,2438.5 Z" fill="#2bb06f"/>
<path d="M612.1,2472.0 L625.6,2446.0 L598.6,2446.0 Z" fill="#2bb06f"/>
<path d="M677.5,2480.0 L691.0,2454.0 L664.0,2454.0 Z" fill="#2bb06f"/>
<path d="M742.8,2491.5 L756.3,2465.5 L729.3,2465.5 Z" fill="#2bb06f"/>
<path d="M808.2,2499.5 L821.7,2473.5 L794.7,2473.5 Z" fill="#2bb06f"/>
<path d="M873.5,2511.5 L887.0,2485.5 L860.0,2485.5 Z" fill="#2bb06f"/>
<path d="M938.9,2523.5 L952.4,2497.5 L925.4,2497.5 Z" fill="#2bb06f"/>
<path d="M1004.3,2533.5 L1017.8,2507.5 L990.8,2507.5 Z" fill="#2bb06f"/>
<path d="M1069.6,2535.0 L1083.1,2509.0 L1056.1,2509.0 Z" fill="#2bb06f"/>
<path d="M1135.0,2518.0 L1148.5,2492.0 L1121.5,2492.0 Z" fill="#2bb06f"/>
<path d="M1200.3,2436.5 L1213.8,2410.5 L1186.8,2410.5 Z" fill="#2bb06f"/>
<path d="M1265.7,2254.0 L1279.2,2228.0 L1252.2,2228.0 Z" fill="#2bb06f"/>
<path d="M1331.1,2022.0 L1344.6,1996.0 L1317.6,1996.0 Z" fill="#2bb06f"/>
<line x1="330" y1="2054.5" x2="453" y2="2054.5" stroke="#df3c44" stroke-width="4.5"/><path d="M391.6,2040.0 L404.6,2054.5 L391.6,2069.0 L378.6,2054.5 Z" fill="#ee3138"/>
<line x1="330" y1="2121.8" x2="453" y2="2121.8" stroke="#c9a024" stroke-width="4.5"/><path d="M391.6,2105.0 L405.1,2131.0 L378.1,2131.0 Z" fill="#d2a012"/>
<line x1="330" y1="2189.2" x2="453" y2="2189.2" stroke="#2f9f6b" stroke-width="4.5"/><path d="M391.6,2207.0 L405.1,2181.0 L378.1,2181.0 Z" fill="#2bb06f"/>
<text x="466" y="2073" font-family="'Liberation Serif', 'Times New Roman', serif" font-size="54" fill="#111">Li</text>
<text x="466" y="2140" font-family="'Liberation Serif', 'Times New Roman', serif" font-size="54" fill="#111">Na</text>
<text x="466" y="2207" font-family="'Liberation Serif', 'Times New Roman', serif" font-size="54" fill="#111">K</text>
<circle cx="719.6" cy="2144.5" r="114" fill="url(#gBlue)"/>
<circle cx="723.6" cy="2146.5" r="28.5" fill="url(#gGray)"/>
<circle cx="715.5" cy="2036.3" r="10" fill="url(#gH)"/><circle cx="741.8" cy="2062.6" r="10" fill="url(#gH)"/><circle cx="715.0" cy="2062.6" r="16" fill="url(#gO)"/>
<circle cx="651.8" cy="2077.8" r="10" fill="url(#gH)"/><circle cx="619.4" cy="2097.0" r="10" fill="url(#gH)"/><circle cx="645.7" cy="2104.0" r="16" fill="url(#gO)"/>
<circle cx="807.5" cy="2081.8" r="10" fill="url(#gH)"/><circle cx="795.4" cy="2118.2" r="10" fill="url(#gH)"/><circle cx="784.3" cy="2096.0" r="16" fill="url(#gO)"/>
<circle cx="619.4" cy="2187.0" r="10" fill="url(#gH)"/><circle cx="645.7" cy="2213.3" r="10" fill="url(#gH)"/><circle cx="646.7" cy="2187.0" r="16" fill="url(#gO)"/>
<circle cx="703.4" cy="2237.5" r="10" fill="url(#gH)"/><circle cx="739.8" cy="2237.5" r="10" fill="url(#gH)"/><circle cx="721.6" cy="2220.4" r="16" fill="url(#gO)"/>
<circle cx="783.3" cy="2169.8" r="19" fill="#fff"/><circle cx="783.3" cy="2169.8" r="17" fill="url(#gN)"/>
<circle cx="804.5" cy="2193" r="19" fill="#fff"/><circle cx="804.5" cy="2193.0" r="17" fill="url(#gN)"/>
<rect x="789.0" y="2234" width="14" height="80" fill="url(#gArrow)"/><path d="M784.0,2312 L808.0,2312 L796.0,2322 Z" fill="#a6c2e8"/>
<circle cx="644.0" cy="2357.0" r="24.5" fill="url(#gFe)"/>
<circle cx="696.2" cy="2357.0" r="24.5" fill="url(#gFe)"/>
<circle cx="747.4" cy="2357.0" r="24.5" fill="url(#gFe)"/>
<circle cx="797.8" cy="2357.0" r="24.5" fill="url(#gFe)"/>
<circle cx="849.9" cy="2357.0" r="24.5" fill="url(#gFe)"/>
<circle cx="669.2" cy="2401.0" r="24.5" fill="url(#gFe)"/>
<circle cx="720.4" cy="2401.0" r="24.5" fill="url(#gFe)"/>
<circle cx="771.7" cy="2401.0" r="24.5" fill="url(#gFe)"/>
<circle cx="822.9" cy="2401.0" r="24.5" fill="url(#gFe)"/>
<circle cx="874.2" cy="2401.0" r="24.5" fill="url(#gFe)"/>
<text x="855" y="2190.8" font-family="'Liberation Sans', Arial, sans-serif" font-weight="bold" font-size="50" fill="#000" textLength="36" lengthAdjust="spacingAndGlyphs">N</text>
<text x="893" y="2203.4" font-family="'Liberation Sans', Arial, sans-serif" font-weight="bold" font-size="33" fill="#000">2</text>
<text x="608" y="2602" font-family="'Liberation Sans', Arial, sans-serif" font-weight="bold" font-size="70" fill="#000" textLength="342" lengthAdjust="spacingAndGlyphs">Barrierless</text>
<text x="1247" y="2562.5" font-family="'Liberation Serif', 'Times New Roman', serif" font-size="58" fill="#333" textLength="249" lengthAdjust="spacingAndGlyphs">U = &#8211;0.3 V</text>
<text x="1247" y="2632" font-family="'Liberation Serif', 'Times New Roman', serif" font-size="58" fill="#333" textLength="207" lengthAdjust="spacingAndGlyphs" xml:space="preserve">pH =&#160; 6.8</text>
<text x="573" y="2839" font-family="'Liberation Sans', Arial, sans-serif" font-weight="bold" font-size="70" fill="#000" textLength="349" lengthAdjust="spacingAndGlyphs">d(Fe-N) (&#197;)</text>
<text x="80" y="1968.5" font-family="'Liberation Sans', Arial, sans-serif" font-size="94" fill="#000" textLength="43" lengthAdjust="spacingAndGlyphs">c</text>
<g transform="translate(121,2468) rotate(-90)"><text x="-1.5" y="0" font-family="'Liberation Sans', Arial, sans-serif" font-weight="bold" font-size="68" fill="#000" textLength="31.5" lengthAdjust="spacingAndGlyphs">E</text><text x="33.5" y="17.5" font-family="'Liberation Sans', Arial, sans-serif" font-weight="bold" font-size="45.5" fill="#000" textLength="102" lengthAdjust="spacingAndGlyphs">FREE</text><text x="153" y="1" font-family="'Liberation Sans', Arial, sans-serif" font-weight="bold" font-size="69" fill="#000" textLength="129" lengthAdjust="spacingAndGlyphs">(eV)</text></g>
</g>
<g clip-path="url(#cldL)">
<rect x="1578" y="1590" width="423" height="173" fill="#355f5f"/>
<circle cx="1619" cy="1553" r="66" fill="url(#fe)"/>
<circle cx="1808" cy="1558" r="64" fill="url(#fe)"/>
<circle cx="1883" cy="1559" r="66" fill="url(#fe)"/>
<circle cx="1990" cy="1560" r="66" fill="url(#fe)"/>
<circle cx="1639" cy="1663" r="60" fill="url(#fe)"/>
<circle cx="1812" cy="1664" r="60" fill="url(#fe)"/>
<circle cx="1572" cy="1592" r="66" fill="url(#fe)"/>
<circle cx="1686" cy="1594" r="64" fill="url(#fe)"/>
<circle cx="1990" cy="1608" r="66" fill="url(#fe)"/>
<circle cx="1890" cy="1593" r="65" fill="url(#fe)"/>
<circle cx="1764" cy="1603" r="66" fill="url(#fe)"/>
<circle cx="1574" cy="1708" r="66" fill="url(#fe)"/>
<circle cx="1685" cy="1720" r="64" fill="url(#fe)"/>
<circle cx="1975" cy="1720" r="66" fill="url(#fe)"/>
<circle cx="1908" cy="1706" r="66" fill="url(#fe)"/>
<circle cx="1767" cy="1716" r="66" fill="url(#fe)"/>
<line x1="1680" y1="1132" x2="1661.0" y2="1145.0" stroke="#d41c1c" stroke-width="6"/>
<line x1="1661.0" y1="1145.0" x2="1642" y2="1158" stroke="#e6dfc8" stroke-width="6"/>
<line x1="1680" y1="1132" x2="1664.5" y2="1149.5" stroke="#d41c1c" stroke-width="6"/>
<line x1="1664.5" y1="1149.5" x2="1649" y2="1167" stroke="#e6dfc8" stroke-width="6"/>
<line x1="1794" y1="1138" x2="1774.0" y2="1140.5" stroke="#d41c1c" stroke-width="6"/>
<line x1="1774.0" y1="1140.5" x2="1754" y2="1143" stroke="#e6dfc8" stroke-width="6"/>
<line x1="1794" y1="1138" x2="1812.0" y2="1150.5" stroke="#d41c1c" stroke-width="6"/>
<line x1="1812.0" y1="1150.5" x2="1830" y2="1163" stroke="#e6dfc8" stroke-width="6"/>
<line x1="1703" y1="1258" x2="1713.5" y2="1238.5" stroke="#d41c1c" stroke-width="6"/>
<line x1="1713.5" y1="1238.5" x2="1724" y2="1219" stroke="#e6dfc8" stroke-width="6"/>
<line x1="1602" y1="1280" x2="1623.0" y2="1271.0" stroke="#d41c1c" stroke-width="6"/>
<line x1="1623.0" y1="1271.0" x2="1644" y2="1262" stroke="#e6dfc8" stroke-width="6"/>
<line x1="1681" y1="1300" x2="1676.0" y2="1285.5" stroke="#d41c1c" stroke-width="6"/>
<line x1="1676.0" y1="1285.5" x2="1671" y2="1271" stroke="#e6dfc8" stroke-width="6"/>
<line x1="1703" y1="1258" x2="1705.5" y2="1271.5" stroke="#d41c1c" stroke-width="6"/>
<line x1="1705.5" y1="1271.5" x2="1708" y2="1285" stroke="#e6dfc8" stroke-width="6"/>
<line x1="1884" y1="1221" x2="1899.0" y2="1202.5" stroke="#d41c1c" stroke-width="6"/>
<line x1="1899.0" y1="1202.5" x2="1914" y2="1184" stroke="#e6dfc8" stroke-width="6"/>
<line x1="1884" y1="1221" x2="1901.5" y2="1215.0" stroke="#d41c1c" stroke-width="6"/>
<line x1="1901.5" y1="1215.0" x2="1919" y2="1209" stroke="#e6dfc8" stroke-width="6"/>
<line x1="1773" y1="1372" x2="1782.5" y2="1353.0" stroke="#d41c1c" stroke-width="6"/>
<line x1="1782.5" y1="1353.0" x2="1792" y2="1334" stroke="#e6dfc8" stroke-width="6"/>
<line x1="1990" y1="1278" x2="1970.5" y2="1273.0" stroke="#d41c1c" stroke-width="6"/>
<line x1="1970.5" y1="1273.0" x2="1951" y2="1268" stroke="#e6dfc8" stroke-width="6"/>
<line x1="1978" y1="1308" x2="1964.5" y2="1319.5" stroke="#d41c1c" stroke-width="6"/>
<line x1="1964.5" y1="1319.5" x2="1951" y2="1331" stroke="#e6dfc8" stroke-width="6"/>
<line x1="1708" y1="1374" x2="1697.0" y2="1359.5" stroke="#d41c1c" stroke-width="6"/>
<line x1="1697.0" y1="1359.5" x2="1686" y2="1345" stroke="#e6dfc8" stroke-width="6"/>
<line x1="1708" y1="1374" x2="1721.0" y2="1359.5" stroke="#d41c1c" stroke-width="6"/>
<line x1="1721.0" y1="1359.5" x2="1734" y2="1345" stroke="#e6dfc8" stroke-width="6"/>
<line x1="1773" y1="1372" x2="1758.0" y2="1354.5" stroke="#d41c1c" stroke-width="6"/>
<line x1="1758.0" y1="1354.5" x2="1743" y2="1337" stroke="#e6dfc8" stroke-width="6"/>
<line x1="1773" y1="1372" x2="1763.5" y2="1378.0" stroke="#d41c1c" stroke-width="6"/>
<line x1="1763.5" y1="1378.0" x2="1754" y2="1384" stroke="#e6dfc8" stroke-width="6"/>
<line x1="1590" y1="1394" x2="1604.0" y2="1383.0" stroke="#d41c1c" stroke-width="6"/>
<line x1="1604.0" y1="1383.0" x2="1618" y2="1372" stroke="#e6dfc8" stroke-width="6"/>
<line x1="1590" y1="1394" x2="1597.5" y2="1404.0" stroke="#d41c1c" stroke-width="6"/>
<line x1="1597.5" y1="1404.0" x2="1605" y2="1414" stroke="#e6dfc8" stroke-width="6"/>
<line x1="1590" y1="1394" x2="1587.5" y2="1417.5" stroke="#d41c1c" stroke-width="6"/>
<line x1="1587.5" y1="1417.5" x2="1585" y2="1441" stroke="#e6dfc8" stroke-width="6"/>
<line x1="1775" y1="1424" x2="1759.0" y2="1415.5" stroke="#d41c1c" stroke-width="6"/>
<line x1="1759.0" y1="1415.5" x2="1743" y2="1407" stroke="#e6dfc8" stroke-width="6"/>
<line x1="1775" y1="1424" x2="1751.5" y2="1434.0" stroke="#d41c1c" stroke-width="6"/>
<line x1="1751.5" y1="1434.0" x2="1728" y2="1444" stroke="#e6dfc8" stroke-width="6"/>
<line x1="1775" y1="1424" x2="1785.5" y2="1443.0" stroke="#d41c1c" stroke-width="6"/>
<line x1="1785.5" y1="1443.0" x2="1796" y2="1462" stroke="#e6dfc8" stroke-width="6"/>
<line x1="1948" y1="1397" x2="1926.0" y2="1384.5" stroke="#d41c1c" stroke-width="6"/>
<line x1="1926.0" y1="1384.5" x2="1904" y2="1372" stroke="#e6dfc8" stroke-width="6"/>
<line x1="1948" y1="1397" x2="1961.5" y2="1408.0" stroke="#d41c1c" stroke-width="6"/>
<line x1="1961.5" y1="1408.0" x2="1975" y2="1419" stroke="#e6dfc8" stroke-width="6"/>
<line x1="1978" y1="1372" x2="1985.5" y2="1390.5" stroke="#d41c1c" stroke-width="6"/>
<line x1="1985.5" y1="1390.5" x2="1993" y2="1409" stroke="#e6dfc8" stroke-width="6"/>
<line x1="1632" y1="1454" x2="1616.0" y2="1452.0" stroke="#d41c1c" stroke-width="6"/>
<line x1="1616.0" y1="1452.0" x2="1600" y2="1450" stroke="#e6dfc8" stroke-width="6"/>
<circle cx="1680" cy="1132" r="20" fill="url(#o2)"/>
<circle cx="1716" cy="1122" r="20" fill="url(#o2)"/>
<circle cx="1794" cy="1138" r="20" fill="url(#o2)"/>
<circle cx="1600" cy="1191" r="20" fill="url(#o2)"/>
<circle cx="1997" cy="1147" r="20" fill="url(#o2)"/>
<circle cx="1703" cy="1258" r="20" fill="url(#o2)"/>
<circle cx="1602" cy="1280" r="20" fill="url(#o2)"/>
<circle cx="1681" cy="1300" r="20" fill="url(#o2)"/>
<circle cx="1778" cy="1288" r="20" fill="url(#o2)"/>
<circle cx="1884" cy="1221" r="20" fill="url(#o2)"/>
<circle cx="1904" cy="1248" r="20" fill="url(#o2)"/>
<circle cx="1872" cy="1271" r="20" fill="url(#o2)"/>
<circle cx="1990" cy="1278" r="20" fill="url(#o2)"/>
<circle cx="1978" cy="1308" r="20" fill="url(#o2)"/>
<circle cx="1708" cy="1374" r="20" fill="url(#o2)"/>
<circle cx="1773" cy="1372" r="20" fill="url(#o2)"/>
<circle cx="1590" cy="1394" r="20" fill="url(#o2)"/>
<circle cx="1632" cy="1454" r="20" fill="url(#o2)"/>
<circle cx="1775" cy="1424" r="20" fill="url(#o2)"/>
<circle cx="1978" cy="1372" r="20" fill="url(#o2)"/>
<circle cx="1948" cy="1397" r="20" fill="url(#o2)"/>
<circle cx="1943" cy="1446" r="20" fill="url(#o2)"/>
<circle cx="1995" cy="1458" r="20" fill="url(#o2)"/>
<circle cx="1642" cy="1158" r="15.5" fill="url(#h2)"/>
<circle cx="1649" cy="1167" r="15.5" fill="url(#h2)"/>
<circle cx="1718" cy="1133" r="15.5" fill="url(#h2)"/>
<circle cx="1754" cy="1143" r="15.5" fill="url(#h2)"/>
<circle cx="1830" cy="1163" r="15.5" fill="url(#h2)"/>
<circle cx="1724" cy="1219" r="15.5" fill="url(#h2)"/>
<circle cx="1644" cy="1262" r="15.5" fill="url(#h2)"/>
<circle cx="1671" cy="1271" r="15.5" fill="url(#h2)"/>
<circle cx="1708" cy="1285" r="15.5" fill="url(#h2)"/>
<circle cx="1914" cy="1184" r="15.5" fill="url(#h2)"/>
<circle cx="1919" cy="1209" r="15.5" fill="url(#h2)"/>
<circle cx="1877" cy="1238" r="15.5" fill="url(#h2)"/>
<circle cx="1858" cy="1263" r="15.5" fill="url(#h2)"/>
<circle cx="1781" cy="1277" r="15.5" fill="url(#h2)"/>
<circle cx="1792" cy="1334" r="15.5" fill="url(#h2)"/>
<circle cx="1951" cy="1268" r="15.5" fill="url(#h2)"/>
<circle cx="1988" cy="1298" r="15.5" fill="url(#h2)"/>
<circle cx="1951" cy="1331" r="15.5" fill="url(#h2)"/>
<circle cx="1686" cy="1345" r="15.5" fill="url(#h2)"/>
<circle cx="1734" cy="1345" r="15.5" fill="url(#h2)"/>
<circle cx="1743" cy="1337" r="15.5" fill="url(#h2)"/>
<circle cx="1754" cy="1384" r="15.5" fill="url(#h2)"/>
<circle cx="1618" cy="1372" r="15.5" fill="url(#h2)"/>
<circle cx="1605" cy="1414" r="15.5" fill="url(#h2)"/>
<circle cx="1585" cy="1441" r="15.5" fill="url(#h2)"/>
<circle cx="1664" cy="1411" r="15.5" fill="url(#h2)"/>
<circle cx="1680" cy="1426" r="15.5" fill="url(#h2)"/>
<circle cx="1743" cy="1407" r="15.5" fill="url(#h2)"/>
<circle cx="1728" cy="1444" r="15.5" fill="url(#h2)"/>
<circle cx="1796" cy="1462" r="15.5" fill="url(#h2)"/>
<circle cx="1904" cy="1372" r="15.5" fill="url(#h2)"/>
<circle cx="1936" cy="1441" r="15.5" fill="url(#h2)"/>
<circle cx="1975" cy="1419" r="15.5" fill="url(#h2)"/>
<circle cx="1993" cy="1409" r="15.5" fill="url(#h2)"/>
<circle cx="1600" cy="1450" r="15.5" fill="url(#h2)"/>
<circle cx="1938" cy="1447" r="15.5" fill="url(#h2)"/>
<line x1="1822" y1="1275.5" x2="1848" y2="1321" stroke="#6a6e70" stroke-width="9"/>
<circle cx="1822" cy="1275.5" r="20" fill="url(#n2)"/>
<circle cx="1848" cy="1321" r="20" fill="url(#n2)"/>
</g>
<g clip-path="url(#cldR)">
<rect x="2023" y="1660" width="421" height="100" fill="#355f5f"/>
<circle cx="2052" cy="1608" r="65" fill="url(#fe)"/>
<circle cx="2171" cy="1618" r="65" fill="url(#fe)"/>
<circle cx="2303" cy="1607" r="65" fill="url(#fe)"/>
<circle cx="2435" cy="1608" r="65" fill="url(#fe)"/>
<circle cx="2232" cy="1667" r="62" fill="url(#fe)"/>
<circle cx="2374" cy="1670" r="62" fill="url(#fe)"/>
<circle cx="2030" cy="1672" r="62" fill="url(#fe)"/>
<circle cx="2111" cy="1674" r="64" fill="url(#fe)"/>
<circle cx="2308" cy="1631" r="66" fill="url(#fe)"/>
<circle cx="2055" cy="1727" r="65" fill="url(#fe)"/>
<circle cx="2183" cy="1727" r="65" fill="url(#fe)"/>
<circle cx="2435" cy="1727" r="65" fill="url(#fe)"/>
<circle cx="2306" cy="1731" r="66" fill="url(#fe)"/>
<line x1="2303" y1="1514" x2="2303" y2="1549" stroke="#6a6e70" stroke-width="7"/>
<line x1="2228" y1="1138" x2="2233.5" y2="1119.0" stroke="#d41c1c" stroke-width="6"/>
<line x1="2233.5" y1="1119.0" x2="2239" y2="1100" stroke="#e6dfc8" stroke-width="6"/>
<line x1="2048" y1="1157" x2="2061.0" y2="1147.0" stroke="#d41c1c" stroke-width="6"/>
<line x1="2061.0" y1="1147.0" x2="2074" y2="1137" stroke="#e6dfc8" stroke-width="6"/>
<line x1="2228" y1="1138" x2="2209.5" y2="1137.0" stroke="#d41c1c" stroke-width="6"/>
<line x1="2209.5" y1="1137.0" x2="2191" y2="1136" stroke="#e6dfc8" stroke-width="6"/>
<line x1="2266" y1="1167" x2="2276.0" y2="1157.0" stroke="#d41c1c" stroke-width="6"/>
<line x1="2276.0" y1="1157.0" x2="2286" y2="1147" stroke="#e6dfc8" stroke-width="6"/>
<line x1="2344" y1="1164" x2="2352.5" y2="1155.0" stroke="#d41c1c" stroke-width="6"/>
<line x1="2352.5" y1="1155.0" x2="2361" y2="1146" stroke="#e6dfc8" stroke-width="6"/>
<line x1="2372" y1="1190" x2="2378.5" y2="1175.0" stroke="#d41c1c" stroke-width="6"/>
<line x1="2378.5" y1="1175.0" x2="2385" y2="1160" stroke="#e6dfc8" stroke-width="6"/>
<line x1="2430" y1="1156" x2="2419.0" y2="1160.0" stroke="#d41c1c" stroke-width="6"/>
<line x1="2419.0" y1="1160.0" x2="2408" y2="1164" stroke="#e6dfc8" stroke-width="6"/>
<line x1="2344" y1="1164" x2="2336.5" y2="1172.0" stroke="#d41c1c" stroke-width="6"/>
<line x1="2336.5" y1="1172.0" x2="2329" y2="1180" stroke="#e6dfc8" stroke-width="6"/>
<line x1="2430" y1="1156" x2="2432.5" y2="1180.0" stroke="#d41c1c" stroke-width="6"/>
<line x1="2432.5" y1="1180.0" x2="2435" y2="1204" stroke="#e6dfc8" stroke-width="6"/>
<line x1="2048" y1="1157" x2="2037.5" y2="1162.0" stroke="#d41c1c" stroke-width="6"/>
<line x1="2037.5" y1="1162.0" x2="2027" y2="1167" stroke="#e6dfc8" stroke-width="6"/>
<line x1="2048" y1="1157" x2="2062.0" y2="1174.0" stroke="#d41c1c" stroke-width="6"/>
<line x1="2062.0" y1="1174.0" x2="2076" y2="1191" stroke="#e6dfc8" stroke-width="6"/>
<line x1="2215" y1="1258" x2="2219.0" y2="1237.0" stroke="#d41c1c" stroke-width="6"/>
<line x1="2219.0" y1="1237.0" x2="2223" y2="1216" stroke="#e6dfc8" stroke-width="6"/>
<line x1="2215" y1="1258" x2="2225.5" y2="1245.5" stroke="#d41c1c" stroke-width="6"/>
<line x1="2225.5" y1="1245.5" x2="2236" y2="1233" stroke="#e6dfc8" stroke-width="6"/>
<line x1="2312" y1="1275" x2="2319.5" y2="1256.0" stroke="#d41c1c" stroke-width="6"/>
<line x1="2319.5" y1="1256.0" x2="2327" y2="1237" stroke="#e6dfc8" stroke-width="6"/>
<line x1="2097" y1="1269" x2="2118.0" y2="1271.5" stroke="#d41c1c" stroke-width="6"/>
<line x1="2118.0" y1="1271.5" x2="2139" y2="1274" stroke="#e6dfc8" stroke-width="6"/>
<line x1="2097" y1="1269" x2="2084.5" y2="1286.0" stroke="#d41c1c" stroke-width="6"/>
<line x1="2084.5" y1="1286.0" x2="2072" y2="1303" stroke="#e6dfc8" stroke-width="6"/>
<line x1="2220" y1="1278" x2="2233.0" y2="1276.0" stroke="#d41c1c" stroke-width="6"/>
<line x1="2233.0" y1="1276.0" x2="2246" y2="1274" stroke="#e6dfc8" stroke-width="6"/>
<line x1="2312" y1="1275" x2="2297.5" y2="1274.0" stroke="#d41c1c" stroke-width="6"/>
<line x1="2297.5" y1="1274.0" x2="2283" y2="1273" stroke="#e6dfc8" stroke-width="6"/>
<line x1="2372" y1="1330" x2="2361.0" y2="1316.5" stroke="#d41c1c" stroke-width="6"/>
<line x1="2361.0" y1="1316.5" x2="2350" y2="1303" stroke="#e6dfc8" stroke-width="6"/>
<line x1="2397" y1="1347" x2="2405.5" y2="1333.5" stroke="#d41c1c" stroke-width="6"/>
<line x1="2405.5" y1="1333.5" x2="2414" y2="1320" stroke="#e6dfc8" stroke-width="6"/>
<line x1="2025" y1="1350" x2="2030.0" y2="1335.5" stroke="#d41c1c" stroke-width="6"/>
<line x1="2030.0" y1="1335.5" x2="2035" y2="1321" stroke="#e6dfc8" stroke-width="6"/>
<line x1="2225" y1="1346" x2="2225.0" y2="1333.0" stroke="#d41c1c" stroke-width="6"/>
<line x1="2225.0" y1="1333.0" x2="2225" y2="1320" stroke="#e6dfc8" stroke-width="6"/>
<line x1="2225" y1="1346" x2="2246.5" y2="1348.5" stroke="#d41c1c" stroke-width="6"/>
<line x1="2246.5" y1="1348.5" x2="2268" y2="1351" stroke="#e6dfc8" stroke-width="6"/>
<line x1="2105" y1="1432" x2="2096.5" y2="1413.5" stroke="#d41c1c" stroke-width="6"/>
<line x1="2096.5" y1="1413.5" x2="2088" y2="1395" stroke="#e6dfc8" stroke-width="6"/>
<line x1="2183" y1="1423" x2="2169.5" y2="1424.5" stroke="#d41c1c" stroke-width="6"/>
<line x1="2169.5" y1="1424.5" x2="2156" y2="1426" stroke="#e6dfc8" stroke-width="6"/>
<line x1="2183" y1="1423" x2="2201.0" y2="1425.0" stroke="#d41c1c" stroke-width="6"/>
<line x1="2201.0" y1="1425.0" x2="2219" y2="1427" stroke="#e6dfc8" stroke-width="6"/>
<line x1="2313" y1="1392" x2="2299.5" y2="1396.5" stroke="#d41c1c" stroke-width="6"/>
<line x1="2299.5" y1="1396.5" x2="2286" y2="1401" stroke="#e6dfc8" stroke-width="6"/>
<line x1="2313" y1="1392" x2="2333.0" y2="1392.5" stroke="#d41c1c" stroke-width="6"/>
<line x1="2333.0" y1="1392.5" x2="2353" y2="1393" stroke="#e6dfc8" stroke-width="6"/>
<line x1="2105" y1="1432" x2="2101.0" y2="1448.5" stroke="#d41c1c" stroke-width="6"/>
<line x1="2101.0" y1="1448.5" x2="2097" y2="1465" stroke="#e6dfc8" stroke-width="6"/>
<line x1="2183" y1="1423" x2="2179.0" y2="1443.0" stroke="#d41c1c" stroke-width="6"/>
<line x1="2179.0" y1="1443.0" x2="2175" y2="1463" stroke="#e6dfc8" stroke-width="6"/>
<line x1="2371" y1="1466" x2="2387.5" y2="1458.0" stroke="#d41c1c" stroke-width="6"/>
<line x1="2387.5" y1="1458.0" x2="2404" y2="1450" stroke="#e6dfc8" stroke-width="6"/>
<line x1="2116" y1="1495" x2="2137.5" y2="1496.0" stroke="#d41c1c" stroke-width="6"/>
<line x1="2137.5" y1="1496.0" x2="2159" y2="1497" stroke="#e6dfc8" stroke-width="6"/>
<line x1="2116" y1="1495" x2="2112.0" y2="1517.5" stroke="#d41c1c" stroke-width="6"/>
<line x1="2112.0" y1="1517.5" x2="2108" y2="1540" stroke="#e6dfc8" stroke-width="6"/>
<line x1="2372" y1="1478" x2="2382.0" y2="1495.5" stroke="#d41c1c" stroke-width="6"/>
<line x1="2382.0" y1="1495.5" x2="2392" y2="1513" stroke="#e6dfc8" stroke-width="6"/>
<circle cx="2139" cy="1093" r="17" fill="url(#o2)"/>
<circle cx="2048" cy="1157" r="17" fill="url(#o2)"/>
<circle cx="2228" cy="1138" r="17" fill="url(#o2)"/>
<circle cx="2266" cy="1167" r="17" fill="url(#o2)"/>
<circle cx="2344" cy="1164" r="17" fill="url(#o2)"/>
<circle cx="2372" cy="1190" r="17" fill="url(#o2)"/>
<circle cx="2430" cy="1156" r="17" fill="url(#o2)"/>
<circle cx="2097" cy="1269" r="17" fill="url(#o2)"/>
<circle cx="2215" cy="1258" r="17" fill="url(#o2)"/>
<circle cx="2220" cy="1278" r="17" fill="url(#o2)"/>
<circle cx="2312" cy="1275" r="17" fill="url(#o2)"/>
<circle cx="2025" cy="1350" r="17" fill="url(#o2)"/>
<circle cx="2372" cy="1330" r="17" fill="url(#o2)"/>
<circle cx="2397" cy="1347" r="17" fill="url(#o2)"/>
<circle cx="2225" cy="1346" r="17" fill="url(#o2)"/>
<circle cx="2313" cy="1392" r="17" fill="url(#o2)"/>
<circle cx="2181" cy="1414" r="17" fill="url(#o2)"/>
<circle cx="2105" cy="1432" r="17" fill="url(#o2)"/>
<circle cx="2371" cy="1466" r="17" fill="url(#o2)"/>
<circle cx="2183" cy="1423" r="17" fill="url(#o2)"/>
<circle cx="2116" cy="1495" r="17" fill="url(#o2)"/>
<circle cx="2372" cy="1478" r="17" fill="url(#o2)"/>
<circle cx="2239" cy="1100" r="17" fill="url(#h2)"/>
<circle cx="2074" cy="1137" r="17" fill="url(#h2)"/>
<circle cx="2191" cy="1136" r="17" fill="url(#h2)"/>
<circle cx="2240" cy="1137" r="17" fill="url(#h2)"/>
<circle cx="2286" cy="1147" r="17" fill="url(#h2)"/>
<circle cx="2361" cy="1146" r="17" fill="url(#h2)"/>
<circle cx="2385" cy="1160" r="17" fill="url(#h2)"/>
<circle cx="2408" cy="1164" r="17" fill="url(#h2)"/>
<circle cx="2329" cy="1180" r="17" fill="url(#h2)"/>
<circle cx="2435" cy="1204" r="17" fill="url(#h2)"/>
<circle cx="2027" cy="1167" r="17" fill="url(#h2)"/>
<circle cx="2076" cy="1191" r="17" fill="url(#h2)"/>
<circle cx="2055" cy="1207" r="17" fill="url(#h2)"/>
<circle cx="2223" cy="1216" r="17" fill="url(#h2)"/>
<circle cx="2236" cy="1233" r="17" fill="url(#h2)"/>
<circle cx="2327" cy="1237" r="17" fill="url(#h2)"/>
<circle cx="2364" cy="1263" r="17" fill="url(#h2)"/>
<circle cx="2103" cy="1269" r="17" fill="url(#h2)"/>
<circle cx="2139" cy="1274" r="17" fill="url(#h2)"/>
<circle cx="2072" cy="1303" r="17" fill="url(#h2)"/>
<circle cx="2246" cy="1274" r="17" fill="url(#h2)"/>
<circle cx="2224" cy="1288" r="17" fill="url(#h2)"/>
<circle cx="2283" cy="1273" r="17" fill="url(#h2)"/>
<circle cx="2350" cy="1303" r="17" fill="url(#h2)"/>
<circle cx="2369" cy="1312" r="17" fill="url(#h2)"/>
<circle cx="2414" cy="1320" r="17" fill="url(#h2)"/>
<circle cx="2035" cy="1321" r="17" fill="url(#h2)"/>
<circle cx="2225" cy="1320" r="17" fill="url(#h2)"/>
<circle cx="2268" cy="1351" r="17" fill="url(#h2)"/>
<circle cx="2391" cy="1337" r="17" fill="url(#h2)"/>
<circle cx="2440" cy="1300" r="17" fill="url(#h2)"/>
<circle cx="2088" cy="1395" r="17" fill="url(#h2)"/>
<circle cx="2156" cy="1426" r="17" fill="url(#h2)"/>
<circle cx="2219" cy="1427" r="17" fill="url(#h2)"/>
<circle cx="2286" cy="1401" r="17" fill="url(#h2)"/>
<circle cx="2353" cy="1393" r="17" fill="url(#h2)"/>
<circle cx="2030" cy="1449" r="17" fill="url(#h2)"/>
<circle cx="2097" cy="1465" r="17" fill="url(#h2)"/>
<circle cx="2175" cy="1463" r="17" fill="url(#h2)"/>
<circle cx="2404" cy="1450" r="17" fill="url(#h2)"/>
<circle cx="2159" cy="1497" r="17" fill="url(#h2)"/>
<circle cx="2025" cy="1515" r="17" fill="url(#h2)"/>
<circle cx="2108" cy="1540" r="17" fill="url(#h2)"/>
<circle cx="2392" cy="1513" r="17" fill="url(#h2)"/>
<line x1="2263.5" y1="1479" x2="2303" y2="1514" stroke="#6a6e70" stroke-width="9"/>
<circle cx="2263.5" cy="1479" r="17.5" fill="url(#n2)"/>
<circle cx="2303" cy="1514" r="17.5" fill="url(#n2)"/>
</g>
<g clip-path="url(#cleL)">
<rect x="1585" y="2530" width="401" height="110" fill="#355f5f"/>
<circle cx="1560" cy="2515" r="64" fill="url(#fe)"/>
<circle cx="1671" cy="2502" r="65" fill="url(#fe)"/>
<circle cx="1797" cy="2499" r="65" fill="url(#fe)"/>
<circle cx="1970" cy="2499" r="65" fill="url(#fe)"/>
<circle cx="1674" cy="2619" r="64" fill="url(#fe)"/>
<circle cx="1805" cy="2619" r="64" fill="url(#fe)"/>
<circle cx="1936" cy="2619" r="64" fill="url(#fe)"/>
<circle cx="1610" cy="2555" r="65" fill="url(#fe)"/>
<circle cx="1727" cy="2557" r="65" fill="url(#fe)"/>
<circle cx="1859" cy="2562" r="66" fill="url(#fe)"/>
<circle cx="1985" cy="2580" r="62" fill="url(#fe)"/>
<circle cx="1914" cy="2500" r="67" fill="url(#fe)"/>
<line x1="1728" y1="2043" x2="1724.5" y2="2027.0" stroke="#d41c1c" stroke-width="6"/>
<line x1="1724.5" y1="2027.0" x2="1721" y2="2011" stroke="#e6dfc8" stroke-width="6"/>
<line x1="1728" y1="2043" x2="1748.5" y2="2041.5" stroke="#d41c1c" stroke-width="6"/>
<line x1="1748.5" y1="2041.5" x2="1769" y2="2040" stroke="#e6dfc8" stroke-width="6"/>
<line x1="1706" y1="2077" x2="1697.5" y2="2068.0" stroke="#d41c1c" stroke-width="6"/>
<line x1="1697.5" y1="2068.0" x2="1689" y2="2059" stroke="#e6dfc8" stroke-width="6"/>
<line x1="1596" y1="2094" x2="1595.5" y2="2083.0" stroke="#d41c1c" stroke-width="6"/>
<line x1="1595.5" y1="2083.0" x2="1595" y2="2072" stroke="#e6dfc8" stroke-width="6"/>
<line x1="1851" y1="2015" x2="1869.5" y2="2027.5" stroke="#d41c1c" stroke-width="6"/>
<line x1="1869.5" y1="2027.5" x2="1888" y2="2040" stroke="#e6dfc8" stroke-width="6"/>
<line x1="1975" y1="2096" x2="1969.0" y2="2086.5" stroke="#d41c1c" stroke-width="6"/>
<line x1="1969.0" y1="2086.5" x2="1963" y2="2077" stroke="#e6dfc8" stroke-width="6"/>
<line x1="1925" y1="2067" x2="1914.5" y2="2085.5" stroke="#d41c1c" stroke-width="6"/>
<line x1="1914.5" y1="2085.5" x2="1904" y2="2104" stroke="#e6dfc8" stroke-width="6"/>
<line x1="1706" y1="2077" x2="1716.0" y2="2094.0" stroke="#d41c1c" stroke-width="6"/>
<line x1="1716.0" y1="2094.0" x2="1726" y2="2111" stroke="#e6dfc8" stroke-width="6"/>
<line x1="1681" y1="2187" x2="1667.5" y2="2169.0" stroke="#d41c1c" stroke-width="6"/>
<line x1="1667.5" y1="2169.0" x2="1654" y2="2151" stroke="#e6dfc8" stroke-width="6"/>
<line x1="1730" y1="2153" x2="1720.0" y2="2164.5" stroke="#d41c1c" stroke-width="6"/>
<line x1="1720.0" y1="2164.5" x2="1710" y2="2176" stroke="#e6dfc8" stroke-width="6"/>
<line x1="1753" y1="2197" x2="1761.5" y2="2182.5" stroke="#d41c1c" stroke-width="6"/>
<line x1="1761.5" y1="2182.5" x2="1770" y2="2168" stroke="#e6dfc8" stroke-width="6"/>
<line x1="1603" y1="2218" x2="1601.0" y2="2198.0" stroke="#d41c1c" stroke-width="6"/>
<line x1="1601.0" y1="2198.0" x2="1599" y2="2178" stroke="#e6dfc8" stroke-width="6"/>
<line x1="1753" y1="2197" x2="1741.5" y2="2199.5" stroke="#d41c1c" stroke-width="6"/>
<line x1="1741.5" y1="2199.5" x2="1730" y2="2202" stroke="#e6dfc8" stroke-width="6"/>
<line x1="1867" y1="2177" x2="1846.0" y2="2181.0" stroke="#d41c1c" stroke-width="6"/>
<line x1="1846.0" y1="2181.0" x2="1825" y2="2185" stroke="#e6dfc8" stroke-width="6"/>
<line x1="1983" y1="2220" x2="1981.5" y2="2199.5" stroke="#d41c1c" stroke-width="6"/>
<line x1="1981.5" y1="2199.5" x2="1980" y2="2179" stroke="#e6dfc8" stroke-width="6"/>
<line x1="1896" y1="2198" x2="1881.5" y2="2206.5" stroke="#d41c1c" stroke-width="6"/>
<line x1="1881.5" y1="2206.5" x2="1867" y2="2215" stroke="#e6dfc8" stroke-width="6"/>
<line x1="1896" y1="2198" x2="1897.5" y2="2212.5" stroke="#d41c1c" stroke-width="6"/>
<line x1="1897.5" y1="2212.5" x2="1899" y2="2227" stroke="#e6dfc8" stroke-width="6"/>
<line x1="1919" y1="2257" x2="1927.5" y2="2240.5" stroke="#d41c1c" stroke-width="6"/>
<line x1="1927.5" y1="2240.5" x2="1936" y2="2224" stroke="#e6dfc8" stroke-width="6"/>
<line x1="1919" y1="2257" x2="1939.0" y2="2260.0" stroke="#d41c1c" stroke-width="6"/>
<line x1="1939.0" y1="2260.0" x2="1959" y2="2263" stroke="#e6dfc8" stroke-width="6"/>
<line x1="1603" y1="2218" x2="1595.0" y2="2227.5" stroke="#d41c1c" stroke-width="6"/>
<line x1="1595.0" y1="2227.5" x2="1587" y2="2237" stroke="#e6dfc8" stroke-width="6"/>
<line x1="1637" y1="2279" x2="1647.5" y2="2262.0" stroke="#d41c1c" stroke-width="6"/>
<line x1="1647.5" y1="2262.0" x2="1658" y2="2245" stroke="#e6dfc8" stroke-width="6"/>
<line x1="1637" y1="2279" x2="1648.5" y2="2283.0" stroke="#d41c1c" stroke-width="6"/>
<line x1="1648.5" y1="2283.0" x2="1660" y2="2287" stroke="#e6dfc8" stroke-width="6"/>
<line x1="1695" y1="2307" x2="1701.0" y2="2293.0" stroke="#d41c1c" stroke-width="6"/>
<line x1="1701.0" y1="2293.0" x2="1707" y2="2279" stroke="#e6dfc8" stroke-width="6"/>
<line x1="1781" y1="2334" x2="1775.5" y2="2310.5" stroke="#d41c1c" stroke-width="6"/>
<line x1="1775.5" y1="2310.5" x2="1770" y2="2287" stroke="#e6dfc8" stroke-width="6"/>
<line x1="1597" y1="2334" x2="1598.0" y2="2320.5" stroke="#d41c1c" stroke-width="6"/>
<line x1="1598.0" y1="2320.5" x2="1599" y2="2307" stroke="#e6dfc8" stroke-width="6"/>
<line x1="1781" y1="2334" x2="1800.5" y2="2335.0" stroke="#d41c1c" stroke-width="6"/>
<line x1="1800.5" y1="2335.0" x2="1820" y2="2336" stroke="#e6dfc8" stroke-width="6"/>
<line x1="1908" y1="2355" x2="1906.0" y2="2334.5" stroke="#d41c1c" stroke-width="6"/>
<line x1="1906.0" y1="2334.5" x2="1904" y2="2314" stroke="#e6dfc8" stroke-width="6"/>
<line x1="1930" y1="2358" x2="1944.0" y2="2345.0" stroke="#d41c1c" stroke-width="6"/>
<line x1="1944.0" y1="2345.0" x2="1958" y2="2332" stroke="#e6dfc8" stroke-width="6"/>
<line x1="1908" y1="2355" x2="1906.0" y2="2368.5" stroke="#d41c1c" stroke-width="6"/>
<line x1="1906.0" y1="2368.5" x2="1904" y2="2382" stroke="#e6dfc8" stroke-width="6"/>
<line x1="1930" y1="2358" x2="1933.5" y2="2377.0" stroke="#d41c1c" stroke-width="6"/>
<line x1="1933.5" y1="2377.0" x2="1937" y2="2396" stroke="#e6dfc8" stroke-width="6"/>
<circle cx="1851" cy="2015" r="17.5" fill="url(#o2)"/>
<circle cx="1728" cy="2043" r="17.5" fill="url(#o2)"/>
<circle cx="1706" cy="2077" r="17.5" fill="url(#o2)"/>
<circle cx="1596" cy="2094" r="17.5" fill="url(#o2)"/>
<circle cx="1633" cy="2070" r="17.5" fill="url(#o2)"/>
<circle cx="1925" cy="2067" r="17.5" fill="url(#o2)"/>
<circle cx="1975" cy="2096" r="17.5" fill="url(#o2)"/>
<circle cx="1730" cy="2153" r="17.5" fill="url(#o2)"/>
<circle cx="1681" cy="2187" r="17.5" fill="url(#o2)"/>
<circle cx="1753" cy="2197" r="17.5" fill="url(#o2)"/>
<circle cx="1603" cy="2218" r="17.5" fill="url(#o2)"/>
<circle cx="1867" cy="2177" r="17.5" fill="url(#o2)"/>
<circle cx="1896" cy="2198" r="17.5" fill="url(#o2)"/>
<circle cx="1919" cy="2257" r="17.5" fill="url(#o2)"/>
<circle cx="1637" cy="2279" r="17.5" fill="url(#o2)"/>
<circle cx="1695" cy="2307" r="17.5" fill="url(#o2)"/>
<circle cx="1597" cy="2334" r="17.5" fill="url(#o2)"/>
<circle cx="1781" cy="2334" r="17.5" fill="url(#o2)"/>
<circle cx="1908" cy="2355" r="17.5" fill="url(#o2)"/>
<circle cx="1930" cy="2358" r="17.5" fill="url(#o2)"/>
<circle cx="1983" cy="2220" r="17.5" fill="url(#o2)"/>
<circle cx="1721" cy="2011" r="17" fill="url(#h2)"/>
<circle cx="1769" cy="2040" r="17" fill="url(#h2)"/>
<circle cx="1689" cy="2059" r="17" fill="url(#h2)"/>
<circle cx="1620" cy="2062" r="17" fill="url(#h2)"/>
<circle cx="1633" cy="2084" r="17" fill="url(#h2)"/>
<circle cx="1595" cy="2072" r="17" fill="url(#h2)"/>
<circle cx="1888" cy="2040" r="17" fill="url(#h2)"/>
<circle cx="1963" cy="2077" r="17" fill="url(#h2)"/>
<circle cx="1904" cy="2104" r="17" fill="url(#h2)"/>
<circle cx="1726" cy="2111" r="17" fill="url(#h2)"/>
<circle cx="1654" cy="2151" r="17" fill="url(#h2)"/>
<circle cx="1710" cy="2176" r="17" fill="url(#h2)"/>
<circle cx="1733" cy="2168" r="17" fill="url(#h2)"/>
<circle cx="1770" cy="2168" r="17" fill="url(#h2)"/>
<circle cx="1599" cy="2178" r="17" fill="url(#h2)"/>
<circle cx="1730" cy="2202" r="17" fill="url(#h2)"/>
<circle cx="1825" cy="2185" r="17" fill="url(#h2)"/>
<circle cx="1980" cy="2179" r="17" fill="url(#h2)"/>
<circle cx="1867" cy="2215" r="17" fill="url(#h2)"/>
<circle cx="1899" cy="2227" r="17" fill="url(#h2)"/>
<circle cx="1936" cy="2224" r="17" fill="url(#h2)"/>
<circle cx="1971" cy="2234" r="17" fill="url(#h2)"/>
<circle cx="1959" cy="2263" r="17" fill="url(#h2)"/>
<circle cx="1587" cy="2237" r="17" fill="url(#h2)"/>
<circle cx="1658" cy="2245" r="17" fill="url(#h2)"/>
<circle cx="1633" cy="2262" r="17" fill="url(#h2)"/>
<circle cx="1660" cy="2287" r="17" fill="url(#h2)"/>
<circle cx="1707" cy="2279" r="17" fill="url(#h2)"/>
<circle cx="1770" cy="2287" r="17" fill="url(#h2)"/>
<circle cx="1599" cy="2307" r="17" fill="url(#h2)"/>
<circle cx="1820" cy="2336" r="17" fill="url(#h2)"/>
<circle cx="1904" cy="2314" r="17" fill="url(#h2)"/>
<circle cx="1958" cy="2332" r="17" fill="url(#h2)"/>
<circle cx="1983" cy="2321" r="17" fill="url(#h2)"/>
<circle cx="1904" cy="2382" r="17" fill="url(#h2)"/>
<circle cx="1937" cy="2396" r="17" fill="url(#h2)"/>
<circle cx="1753" cy="2421" r="17" fill="url(#h2)"/>
<line x1="1774" y1="2252" x2="1826" y2="2245" stroke="#6a6e70" stroke-width="9"/>
<circle cx="1774" cy="2252" r="17.5" fill="url(#n2)"/>
<circle cx="1826" cy="2245" r="17.5" fill="url(#n2)"/>
<circle cx="1705" cy="2381.5" r="57" fill="url(#li)"/>
</g>
<g clip-path="url(#cleR)">
<rect x="2016.5" y="2530" width="432.0999999999999" height="105" fill="#355f5f"/>
<circle cx="2160" cy="2506" r="58" fill="url(#fe)"/>
<circle cx="2108" cy="2507" r="58" fill="url(#fe)"/>
<circle cx="2383" cy="2482" r="64" fill="url(#fe)"/>
<circle cx="2096" cy="2552" r="60" fill="url(#fe)"/>
<circle cx="2212" cy="2553" r="60" fill="url(#fe)"/>
<circle cx="2341" cy="2545" r="62" fill="url(#fe)"/>
<circle cx="2045" cy="2506" r="58" fill="url(#fe)"/>
<circle cx="2274" cy="2495" r="65" fill="url(#fe)"/>
<circle cx="2415" cy="2501" r="62" fill="url(#fe)"/>
<circle cx="2030" cy="2611" r="62" fill="url(#fe)"/>
<circle cx="2154" cy="2609" r="62" fill="url(#fe)"/>
<circle cx="2279" cy="2608" r="62" fill="url(#fe)"/>
<circle cx="2402" cy="2605" r="62" fill="url(#fe)"/>
<line x1="2225" y1="2415" x2="2237" y2="2450" stroke="#6a6e70" stroke-width="7"/>
<line x1="2059" y1="2059" x2="2066.0" y2="2050.5" stroke="#d41c1c" stroke-width="6"/>
<line x1="2066.0" y1="2050.5" x2="2073" y2="2042" stroke="#e6dfc8" stroke-width="6"/>
<line x1="2092" y1="2085" x2="2094.5" y2="2070.5" stroke="#d41c1c" stroke-width="6"/>
<line x1="2094.5" y1="2070.5" x2="2097" y2="2056" stroke="#e6dfc8" stroke-width="6"/>
<line x1="2059" y1="2059" x2="2055.5" y2="2068.5" stroke="#d41c1c" stroke-width="6"/>
<line x1="2055.5" y1="2068.5" x2="2052" y2="2078" stroke="#e6dfc8" stroke-width="6"/>
<line x1="2147" y1="2050" x2="2135.0" y2="2056.0" stroke="#d41c1c" stroke-width="6"/>
<line x1="2135.0" y1="2056.0" x2="2123" y2="2062" stroke="#e6dfc8" stroke-width="6"/>
<line x1="2147" y1="2050" x2="2162.5" y2="2041.5" stroke="#d41c1c" stroke-width="6"/>
<line x1="2162.5" y1="2041.5" x2="2178" y2="2033" stroke="#e6dfc8" stroke-width="6"/>
<line x1="2147" y1="2050" x2="2160.0" y2="2066.0" stroke="#d41c1c" stroke-width="6"/>
<line x1="2160.0" y1="2066.0" x2="2173" y2="2082" stroke="#e6dfc8" stroke-width="6"/>
<line x1="2330" y1="2033" x2="2310.5" y2="2031.5" stroke="#d41c1c" stroke-width="6"/>
<line x1="2310.5" y1="2031.5" x2="2291" y2="2030" stroke="#e6dfc8" stroke-width="6"/>
<line x1="2359" y1="2057" x2="2368.0" y2="2047.5" stroke="#d41c1c" stroke-width="6"/>
<line x1="2368.0" y1="2047.5" x2="2377" y2="2038" stroke="#e6dfc8" stroke-width="6"/>
<line x1="2431" y1="2054" x2="2438.0" y2="2044.5" stroke="#d41c1c" stroke-width="6"/>
<line x1="2438.0" y1="2044.5" x2="2445" y2="2035" stroke="#e6dfc8" stroke-width="6"/>
<line x1="2431" y1="2054" x2="2428.0" y2="2064.5" stroke="#d41c1c" stroke-width="6"/>
<line x1="2428.0" y1="2064.5" x2="2425" y2="2075" stroke="#e6dfc8" stroke-width="6"/>
<line x1="2042" y1="2178" x2="2045.5" y2="2156.0" stroke="#d41c1c" stroke-width="6"/>
<line x1="2045.5" y1="2156.0" x2="2049" y2="2134" stroke="#e6dfc8" stroke-width="6"/>
<line x1="2123" y1="2197" x2="2116.5" y2="2178.0" stroke="#d41c1c" stroke-width="6"/>
<line x1="2116.5" y1="2178.0" x2="2110" y2="2159" stroke="#e6dfc8" stroke-width="6"/>
<line x1="2216" y1="2145" x2="2236.5" y2="2146.5" stroke="#d41c1c" stroke-width="6"/>
<line x1="2236.5" y1="2146.5" x2="2257" y2="2148" stroke="#e6dfc8" stroke-width="6"/>
<line x1="2123" y1="2197" x2="2143.5" y2="2194.5" stroke="#d41c1c" stroke-width="6"/>
<line x1="2143.5" y1="2194.5" x2="2164" y2="2192" stroke="#e6dfc8" stroke-width="6"/>
<line x1="2123" y1="2197" x2="2111.0" y2="2206.5" stroke="#d41c1c" stroke-width="6"/>
<line x1="2111.0" y1="2206.5" x2="2099" y2="2216" stroke="#e6dfc8" stroke-width="6"/>
<line x1="2336" y1="2162" x2="2339.0" y2="2140.5" stroke="#d41c1c" stroke-width="6"/>
<line x1="2339.0" y1="2140.5" x2="2342" y2="2119" stroke="#e6dfc8" stroke-width="6"/>
<line x1="2415" y1="2171" x2="2418.5" y2="2149.5" stroke="#d41c1c" stroke-width="6"/>
<line x1="2418.5" y1="2149.5" x2="2422" y2="2128" stroke="#e6dfc8" stroke-width="6"/>
<line x1="2336" y1="2162" x2="2349.5" y2="2165.5" stroke="#d41c1c" stroke-width="6"/>
<line x1="2349.5" y1="2165.5" x2="2363" y2="2169" stroke="#e6dfc8" stroke-width="6"/>
<line x1="2415" y1="2171" x2="2399.0" y2="2169.5" stroke="#d41c1c" stroke-width="6"/>
<line x1="2399.0" y1="2169.5" x2="2383" y2="2168" stroke="#e6dfc8" stroke-width="6"/>
<line x1="2336" y1="2162" x2="2333.5" y2="2172.0" stroke="#d41c1c" stroke-width="6"/>
<line x1="2333.5" y1="2172.0" x2="2331" y2="2182" stroke="#e6dfc8" stroke-width="6"/>
<line x1="2320" y1="2226" x2="2330.0" y2="2221.0" stroke="#d41c1c" stroke-width="6"/>
<line x1="2330.0" y1="2221.0" x2="2340" y2="2216" stroke="#e6dfc8" stroke-width="6"/>
<line x1="2320" y1="2226" x2="2306.0" y2="2243.0" stroke="#d41c1c" stroke-width="6"/>
<line x1="2306.0" y1="2243.0" x2="2292" y2="2260" stroke="#e6dfc8" stroke-width="6"/>
<line x1="2061" y1="2286" x2="2050.0" y2="2268.5" stroke="#d41c1c" stroke-width="6"/>
<line x1="2050.0" y1="2268.5" x2="2039" y2="2251" stroke="#e6dfc8" stroke-width="6"/>
<line x1="2061" y1="2286" x2="2080.5" y2="2281.5" stroke="#d41c1c" stroke-width="6"/>
<line x1="2080.5" y1="2281.5" x2="2100" y2="2277" stroke="#e6dfc8" stroke-width="6"/>
<line x1="2154" y1="2326" x2="2153.0" y2="2307.5" stroke="#d41c1c" stroke-width="6"/>
<line x1="2153.0" y1="2307.5" x2="2152" y2="2289" stroke="#e6dfc8" stroke-width="6"/>
<line x1="2255" y1="2325" x2="2238.0" y2="2323.0" stroke="#d41c1c" stroke-width="6"/>
<line x1="2238.0" y1="2323.0" x2="2221" y2="2321" stroke="#e6dfc8" stroke-width="6"/>
<line x1="2432" y1="2281" x2="2422.0" y2="2263.0" stroke="#d41c1c" stroke-width="6"/>
<line x1="2422.0" y1="2263.0" x2="2412" y2="2245" stroke="#e6dfc8" stroke-width="6"/>
<line x1="2432" y1="2364" x2="2416.5" y2="2350.0" stroke="#d41c1c" stroke-width="6"/>
<line x1="2416.5" y1="2350.0" x2="2401" y2="2336" stroke="#e6dfc8" stroke-width="6"/>
<line x1="2154" y1="2326" x2="2155.5" y2="2342.5" stroke="#d41c1c" stroke-width="6"/>
<line x1="2155.5" y1="2342.5" x2="2157" y2="2359" stroke="#e6dfc8" stroke-width="6"/>
<line x1="2315" y1="2383" x2="2313.0" y2="2392.5" stroke="#d41c1c" stroke-width="6"/>
<line x1="2313.0" y1="2392.5" x2="2311" y2="2402" stroke="#e6dfc8" stroke-width="6"/>
<line x1="2351" y1="2392" x2="2359.5" y2="2377.5" stroke="#d41c1c" stroke-width="6"/>
<line x1="2359.5" y1="2377.5" x2="2368" y2="2363" stroke="#e6dfc8" stroke-width="6"/>
<circle cx="2059" cy="2059" r="16.5" fill="url(#o2)"/>
<circle cx="2092" cy="2085" r="16.5" fill="url(#o2)"/>
<circle cx="2147" cy="2050" r="16.5" fill="url(#o2)"/>
<circle cx="2330" cy="2033" r="16.5" fill="url(#o2)"/>
<circle cx="2359" cy="2057" r="16.5" fill="url(#o2)"/>
<circle cx="2431" cy="2054" r="16.5" fill="url(#o2)"/>
<circle cx="2042" cy="2178" r="16.5" fill="url(#o2)"/>
<circle cx="2216" cy="2145" r="16.5" fill="url(#o2)"/>
<circle cx="2123" cy="2197" r="16.5" fill="url(#o2)"/>
<circle cx="2131" cy="2220" r="16.5" fill="url(#o2)"/>
<circle cx="2133" cy="2238" r="16.5" fill="url(#o2)"/>
<circle cx="2336" cy="2162" r="16.5" fill="url(#o2)"/>
<circle cx="2415" cy="2171" r="16.5" fill="url(#o2)"/>
<circle cx="2320" cy="2226" r="16.5" fill="url(#o2)"/>
<circle cx="2061" cy="2286" r="16.5" fill="url(#o2)"/>
<circle cx="2154" cy="2326" r="16.5" fill="url(#o2)"/>
<circle cx="2255" cy="2325" r="16.5" fill="url(#o2)"/>
<circle cx="2432" cy="2281" r="16.5" fill="url(#o2)"/>
<circle cx="2432" cy="2364" r="16.5" fill="url(#o2)"/>
<circle cx="2315" cy="2383" r="16.5" fill="url(#o2)"/>
<circle cx="2351" cy="2392" r="16.5" fill="url(#o2)"/>
<circle cx="2073" cy="2042" r="12.8" fill="url(#h2)"/>
<circle cx="2097" cy="2056" r="12.8" fill="url(#h2)"/>
<circle cx="2052" cy="2078" r="12.8" fill="url(#h2)"/>
<circle cx="2123" cy="2062" r="12.8" fill="url(#h2)"/>
<circle cx="2178" cy="2033" r="12.8" fill="url(#h2)"/>
<circle cx="2173" cy="2082" r="12.8" fill="url(#h2)"/>
<circle cx="2162" cy="2102" r="12.8" fill="url(#h2)"/>
<circle cx="2291" cy="2030" r="12.8" fill="url(#h2)"/>
<circle cx="2377" cy="2038" r="12.8" fill="url(#h2)"/>
<circle cx="2445" cy="2035" r="12.8" fill="url(#h2)"/>
<circle cx="2425" cy="2075" r="12.8" fill="url(#h2)"/>
<circle cx="2049" cy="2134" r="12.8" fill="url(#h2)"/>
<circle cx="2110" cy="2159" r="12.8" fill="url(#h2)"/>
<circle cx="2257" cy="2148" r="12.8" fill="url(#h2)"/>
<circle cx="2197" cy="2190" r="12.8" fill="url(#h2)"/>
<circle cx="2164" cy="2192" r="12.8" fill="url(#h2)"/>
<circle cx="2099" cy="2216" r="12.8" fill="url(#h2)"/>
<circle cx="2342" cy="2119" r="12.8" fill="url(#h2)"/>
<circle cx="2422" cy="2128" r="12.8" fill="url(#h2)"/>
<circle cx="2363" cy="2169" r="12.8" fill="url(#h2)"/>
<circle cx="2383" cy="2168" r="12.8" fill="url(#h2)"/>
<circle cx="2331" cy="2182" r="12.8" fill="url(#h2)"/>
<circle cx="2340" cy="2216" r="12.8" fill="url(#h2)"/>
<circle cx="2292" cy="2260" r="12.8" fill="url(#h2)"/>
<circle cx="2039" cy="2251" r="12.8" fill="url(#h2)"/>
<circle cx="2100" cy="2277" r="12.8" fill="url(#h2)"/>
<circle cx="2152" cy="2289" r="12.8" fill="url(#h2)"/>
<circle cx="2221" cy="2321" r="12.8" fill="url(#h2)"/>
<circle cx="2412" cy="2245" r="12.8" fill="url(#h2)"/>
<circle cx="2401" cy="2336" r="12.8" fill="url(#h2)"/>
<circle cx="2157" cy="2359" r="12.8" fill="url(#h2)"/>
<circle cx="2311" cy="2402" r="12.8" fill="url(#h2)"/>
<circle cx="2368" cy="2363" r="12.8" fill="url(#h2)"/>
<line x1="2173" y1="2403.5" x2="2225" y2="2415" stroke="#6a6e70" stroke-width="9"/>
<circle cx="2173" cy="2403.5" r="16.5" fill="url(#n2)"/>
<circle cx="2225" cy="2415" r="16.5" fill="url(#n2)"/>
<circle cx="2083" cy="2386.5" r="56" fill="url(#li)"/>
<circle cx="2028" cy="2342" r="12.8" fill="url(#h2)"/>
<circle cx="2086" cy="2358" r="12.8" fill="url(#h2)"/>
<circle cx="2062" cy="2368" r="16.5" fill="url(#o2)"/>
</g>
<text x="1698.5" y="1870" font-family="'Liberation Sans', Arial, sans-serif" font-weight="bold" font-size="70" fill="#000" textLength="189" lengthAdjust="spacingAndGlyphs">Initial</text>
<text x="1699" y="1961.5" font-family="'Liberation Sans', Arial, sans-serif" font-weight="bold" font-size="70" fill="#000" textLength="152" lengthAdjust="spacingAndGlyphs">(NN)</text>
<text x="2134.5" y="1863" font-family="'Liberation Sans', Arial, sans-serif" font-weight="bold" font-size="70" fill="#000" textLength="158" lengthAdjust="spacingAndGlyphs">Final</text>
<text x="2101" y="1955" font-family="'Liberation Sans', Arial, sans-serif" font-weight="bold" font-size="70" fill="#000" textLength="251" lengthAdjust="spacingAndGlyphs">(NN-Fe)</text>
<text x="1686.5" y="2747.4" font-family="'Liberation Sans', Arial, sans-serif" font-weight="bold" font-size="70" fill="#000" textLength="189.5" lengthAdjust="spacingAndGlyphs">Initial</text>
<text x="1687.5" y="2839.6" font-family="'Liberation Sans', Arial, sans-serif" font-weight="bold" font-size="70" fill="#000" textLength="151.5" lengthAdjust="spacingAndGlyphs">(NN)</text>
<text x="2205" y="2747.4" font-family="'Liberation Sans', Arial, sans-serif" font-weight="bold" font-size="70" fill="#000" textLength="157.5" lengthAdjust="spacingAndGlyphs">Final</text>
<text x="2099.5" y="2839.6" font-family="'Liberation Sans', Arial, sans-serif" font-weight="bold" font-size="70" fill="#000" textLength="355" lengthAdjust="spacingAndGlyphs">(Li-N-N-Fe)</text>
<text x="1524" y="1127.6" font-family="'Liberation Sans', Arial, sans-serif" font-size="96" fill="#000">d</text>
<text x="1531" y="2029.7" font-family="'Liberation Sans', Arial, sans-serif" font-size="94" fill="#000">e</text>
</svg></body></html>
